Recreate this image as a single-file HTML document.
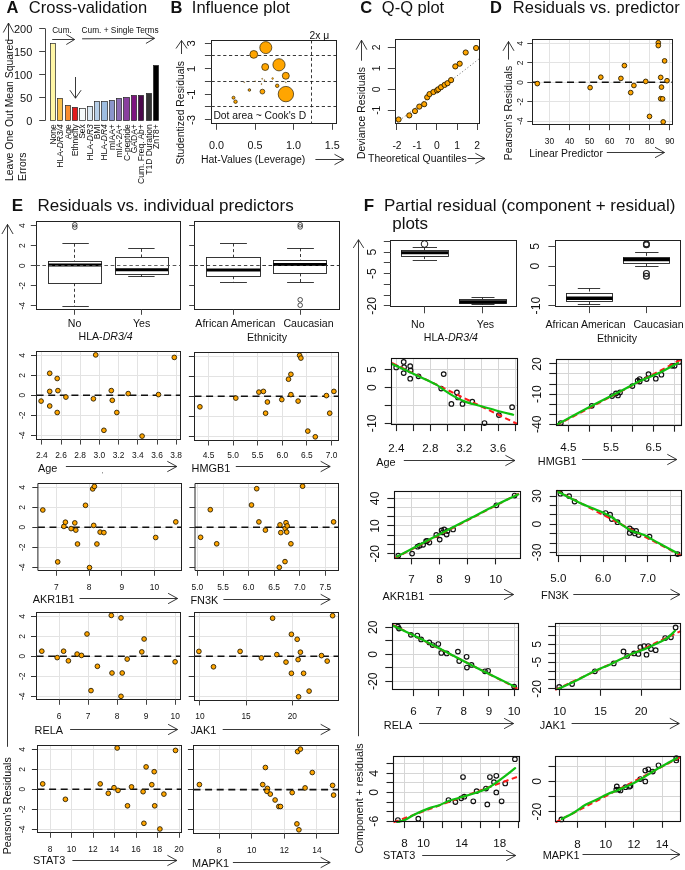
<!DOCTYPE html>
<html><head><meta charset="utf-8"><title>Figure</title>
<style>
html,body{margin:0;padding:0;background:#fff;}
body{width:685px;height:870px;overflow:hidden;}
svg{display:block;will-change:transform;font-family:"Liberation Sans", sans-serif;}
text{fill:#111;}
</style></head><body>
<svg width="685" height="870" viewBox="0 0 685 870">
<rect x="0" y="0" width="685" height="870" fill="#fff"/>
<text x="6.6" y="13.3" font-size="16.5" font-weight="bold" fill="#000">A</text>
<text x="28.8" y="13.3" font-size="16.5">Cross-validation</text>
<text x="170.6" y="13.3" font-size="16.5" font-weight="bold" fill="#000">B</text>
<text x="191.8" y="13.3" font-size="16.5">Influence plot</text>
<text x="360.2" y="13.3" font-size="16.5" font-weight="bold" fill="#000">C</text>
<text x="381.8" y="13.3" font-size="16.5">Q-Q plot</text>
<text x="490.1" y="13.3" font-size="16.5" font-weight="bold" fill="#000">D</text>
<text x="512.8" y="13.3" font-size="16.5">Residuals vs. predictor</text>
<line x1="45.5" y1="28.6" x2="45.5" y2="120.6" stroke="#444" stroke-width="1" stroke-linecap="butt"/>
<line x1="39.2" y1="120.5" x2="45.3" y2="120.5" stroke="#444" stroke-width="1" stroke-linecap="butt"/>
<text x="32.3" y="125.2" font-size="11" text-anchor="end">0</text>
<line x1="39.2" y1="97.5" x2="45.3" y2="97.5" stroke="#444" stroke-width="1" stroke-linecap="butt"/>
<text x="32.3" y="102.2" font-size="11" text-anchor="end">50</text>
<line x1="39.2" y1="74.5" x2="45.3" y2="74.5" stroke="#444" stroke-width="1" stroke-linecap="butt"/>
<text x="32.3" y="79.2" font-size="11" text-anchor="end">100</text>
<line x1="39.2" y1="51.5" x2="45.3" y2="51.5" stroke="#444" stroke-width="1" stroke-linecap="butt"/>
<text x="32.3" y="56.2" font-size="11" text-anchor="end">150</text>
<line x1="39.2" y1="28.5" x2="45.3" y2="28.5" stroke="#444" stroke-width="1" stroke-linecap="butt"/>
<text x="32.3" y="33.2" font-size="11" text-anchor="end">200</text>
<rect x="50.5" y="43.5" width="5" height="77" fill="#FFF6A6" stroke="#222" stroke-width="0.7"/>
<text x="56" y="124.2" font-size="8.5" text-anchor="end" transform="rotate(-90 56 124.2)">None</text>
<rect x="57.5" y="98.5" width="5" height="22" fill="#F9C24F" stroke="#222" stroke-width="0.7"/>
<text x="63.36" y="124.2" font-size="8.5" text-anchor="end" transform="rotate(-90 63.36 124.2)">HLA-<tspan font-style="italic">DR3/4</tspan></text>
<rect x="65.5" y="105.5" width="5" height="15" fill="#F98B2D" stroke="#222" stroke-width="0.7"/>
<text x="70.71" y="124.2" font-size="8.5" text-anchor="end" transform="rotate(-90 70.71 124.2)">Age</text>
<rect x="72.5" y="107.5" width="5" height="13" fill="#E2191C" stroke="#222" stroke-width="0.7"/>
<text x="78.06" y="124.2" font-size="8.5" text-anchor="end" transform="rotate(-90 78.06 124.2)">Ethnicity</text>
<rect x="79.5" y="108.5" width="6" height="12" fill="#F5FBFC" stroke="#222" stroke-width="0.7"/>
<text x="85.42" y="124.2" font-size="8.5" text-anchor="end" transform="rotate(-90 85.42 124.2)">Sex</text>
<rect x="87.5" y="106.5" width="5" height="14" fill="#DCEAF4" stroke="#222" stroke-width="0.7"/>
<text x="92.78" y="124.2" font-size="8.5" text-anchor="end" transform="rotate(-90 92.78 124.2)">HLA-<tspan font-style="italic">DR3</tspan></text>
<rect x="94.5" y="101.5" width="5" height="19" fill="#B5CEE8" stroke="#222" stroke-width="0.7"/>
<text x="100.13" y="124.2" font-size="8.5" text-anchor="end" transform="rotate(-90 100.13 124.2)">BMI</text>
<rect x="101.5" y="101.5" width="6" height="19" fill="#9DBDE1" stroke="#222" stroke-width="0.7"/>
<text x="107.48" y="124.2" font-size="8.5" text-anchor="end" transform="rotate(-90 107.48 124.2)">HLA-<tspan font-style="italic">DR4</tspan></text>
<rect x="109.5" y="100.5" width="5" height="20" fill="#8A95CB" stroke="#222" stroke-width="0.7"/>
<text x="114.84" y="124.2" font-size="8.5" text-anchor="end" transform="rotate(-90 114.84 124.2)">mIAA+</text>
<rect x="116.5" y="98.5" width="5" height="22" fill="#8C6BB3" stroke="#222" stroke-width="0.7"/>
<text x="122.2" y="124.2" font-size="8.5" text-anchor="end" transform="rotate(-90 122.2 124.2)">mIA-2A+</text>
<rect x="123.5" y="97.5" width="6" height="23" fill="#8A3F9F" stroke="#222" stroke-width="0.7"/>
<text x="129.55" y="124.2" font-size="8.5" text-anchor="end" transform="rotate(-90 129.55 124.2)">C-peptide</text>
<rect x="131.5" y="95.5" width="5" height="25" fill="#7E1480" stroke="#222" stroke-width="0.7"/>
<text x="136.91" y="124.2" font-size="8.5" text-anchor="end" transform="rotate(-90 136.91 124.2)">GADA+</text>
<rect x="138.5" y="95.5" width="5" height="25" fill="#4B0A4C" stroke="#222" stroke-width="0.7"/>
<text x="144.26" y="124.2" font-size="8.5" text-anchor="end" transform="rotate(-90 144.26 124.2)">Cum. Freq. Ab+</text>
<rect x="146.5" y="93.5" width="5" height="27" fill="#333333" stroke="#222" stroke-width="0.7"/>
<text x="151.62" y="124.2" font-size="8.5" text-anchor="end" transform="rotate(-90 151.62 124.2)">T1D Duration</text>
<rect x="153.5" y="65.5" width="5" height="55" fill="#000000" stroke="#222" stroke-width="0.7"/>
<text x="158.97" y="124.2" font-size="8.5" text-anchor="end" transform="rotate(-90 158.97 124.2)">ZnT8+</text>
<text x="52.2" y="33.3" font-size="8.2">Cum.</text>
<text x="81.6" y="33.3" font-size="8.3">Cum. + Single Terms</text>
<polyline points="52.2,39.5 74.6,39.5" fill="none" stroke="#222" stroke-width="0.9"/>
<polyline points="66.3,44.5 74.6,39.5 66.3,34.5" fill="none" stroke="#222" stroke-width="0.9" stroke-linejoin="miter"/>
<polyline points="82.1,38.8 154.5,38.4" fill="none" stroke="#222" stroke-width="0.9"/>
<polyline points="145.93,43.45 154.5,38.4 145.87,33.45" fill="none" stroke="#222" stroke-width="0.9" stroke-linejoin="miter"/>
<polyline points="75.5,77 75.5,98.2" fill="none" stroke="#222" stroke-width="0.9"/>
<polyline points="69.9,90.2 75.5,98.2 81.1,90.2" fill="none" stroke="#222" stroke-width="0.9" stroke-linejoin="miter"/>
<text x="13.2" y="181" font-size="10.45" transform="rotate(-90 13.2 181)">Leave One Out Mean Squared</text>
<text x="26.4" y="181" font-size="10.45" transform="rotate(-90 26.4 181)">Errors</text>
<polyline points="8.5,40 8.5,23" fill="none" stroke="#222" stroke-width="0.9"/>
<polyline points="13.7,32.5 8.5,23 3.3,32.5" fill="none" stroke="#222" stroke-width="0.9" stroke-linejoin="miter"/>
<line x1="211.6" y1="55.5" x2="336.6" y2="55.5" stroke="#222" stroke-width="0.9" stroke-linecap="butt" stroke-dasharray="3.2,2.6"/>
<line x1="211.6" y1="81.5" x2="336.6" y2="81.5" stroke="#222" stroke-width="0.9" stroke-linecap="butt" stroke-dasharray="3.2,2.6"/>
<line x1="211.6" y1="106.5" x2="336.6" y2="106.5" stroke="#222" stroke-width="0.9" stroke-linecap="butt" stroke-dasharray="3.2,2.6"/>
<line x1="311.5" y1="40.3" x2="311.5" y2="123.3" stroke="#222" stroke-width="0.9" stroke-linecap="butt" stroke-dasharray="3.2,2.6"/>
<rect x="211.5" y="40.5" width="125" height="83" fill="none" stroke="#222" stroke-width="1"/>
<line x1="204.9" y1="119.5" x2="211.6" y2="119.5" stroke="#444" stroke-width="1" stroke-linecap="butt"/>
<line x1="204.9" y1="106.5" x2="211.6" y2="106.5" stroke="#444" stroke-width="1" stroke-linecap="butt"/>
<line x1="204.9" y1="94.5" x2="211.6" y2="94.5" stroke="#444" stroke-width="1" stroke-linecap="butt"/>
<line x1="204.9" y1="81.5" x2="211.6" y2="81.5" stroke="#444" stroke-width="1" stroke-linecap="butt"/>
<line x1="204.9" y1="68.5" x2="211.6" y2="68.5" stroke="#444" stroke-width="1" stroke-linecap="butt"/>
<line x1="204.9" y1="55.5" x2="211.6" y2="55.5" stroke="#444" stroke-width="1" stroke-linecap="butt"/>
<line x1="204.9" y1="43.5" x2="211.6" y2="43.5" stroke="#444" stroke-width="1" stroke-linecap="butt"/>
<text x="195" y="43.35" font-size="11.4" text-anchor="middle" transform="rotate(-90 195 43.35)">3</text>
<text x="195" y="68.85" font-size="11.4" text-anchor="middle" transform="rotate(-90 195 68.85)">1</text>
<text x="195" y="94.35" font-size="11.4" text-anchor="middle" transform="rotate(-90 195 94.35)">-1</text>
<text x="195" y="119.85" font-size="11.4" text-anchor="middle" transform="rotate(-90 195 119.85)">-3</text>
<line x1="216.5" y1="124.1" x2="216.5" y2="129.8" stroke="#444" stroke-width="1" stroke-linecap="butt"/>
<text x="216.4" y="149" font-size="10.8" text-anchor="middle">0.0</text>
<line x1="255.5" y1="124.1" x2="255.5" y2="129.8" stroke="#444" stroke-width="1" stroke-linecap="butt"/>
<text x="255" y="149" font-size="10.8" text-anchor="middle">0.5</text>
<line x1="293.5" y1="124.1" x2="293.5" y2="129.8" stroke="#444" stroke-width="1" stroke-linecap="butt"/>
<text x="293.6" y="149" font-size="10.8" text-anchor="middle">1.0</text>
<line x1="332.5" y1="124.1" x2="332.5" y2="129.8" stroke="#444" stroke-width="1" stroke-linecap="butt"/>
<text x="332.2" y="149" font-size="10.8" text-anchor="middle">1.5</text>
<text x="201" y="162.6" font-size="10.45">Hat-Values (Leverage)</text>
<polyline points="315.4,159.5 344,159.5" fill="none" stroke="#222" stroke-width="0.9"/>
<polyline points="334.5,164.7 344,159.5 334.5,154.3" fill="none" stroke="#222" stroke-width="0.9" stroke-linejoin="miter"/>
<text x="184.2" y="164.4" font-size="10.4" transform="rotate(-90 184.2 164.4)">Studentized Residuals</text>
<polyline points="181.5,54 181.5,40.5" fill="none" stroke="#222" stroke-width="0.9"/>
<polyline points="187,48.5 181.5,40.5 176,48.5" fill="none" stroke="#222" stroke-width="0.9" stroke-linejoin="miter"/>
<text x="213.4" y="118.6" font-size="10.3">Dot area ~ Cook's D</text>
<text x="309.6" y="38.6" font-size="10.3">2x μ</text>
<circle cx="265.8" cy="47.6" r="6" fill="#FFA500" stroke="#2a1e00" stroke-width="0.7"/>
<circle cx="253.8" cy="54.4" r="3.9" fill="#FFA500" stroke="#2a1e00" stroke-width="0.7"/>
<circle cx="279" cy="64.8" r="6.1" fill="#FFA500" stroke="#2a1e00" stroke-width="0.7"/>
<circle cx="265.2" cy="67" r="3.5" fill="#FFA500" stroke="#2a1e00" stroke-width="0.7"/>
<circle cx="285.8" cy="75.8" r="3.5" fill="#FFA500" stroke="#2a1e00" stroke-width="0.7"/>
<circle cx="285.9" cy="94.1" r="7.7" fill="#FFA500" stroke="#2a1e00" stroke-width="0.7"/>
<circle cx="262.4" cy="91.6" r="2.4" fill="#FFA500" stroke="#2a1e00" stroke-width="0.7"/>
<circle cx="277.2" cy="85.8" r="1.75" fill="#FFA500" stroke="#2a1e00" stroke-width="0.7"/>
<circle cx="249.4" cy="90" r="1.3" fill="#FFA500" stroke="#2a1e00" stroke-width="0.7"/>
<circle cx="233.5" cy="97.7" r="1.5" fill="#FFA500" stroke="#2a1e00" stroke-width="0.7"/>
<circle cx="235.5" cy="101.7" r="1.75" fill="#FFA500" stroke="#2a1e00" stroke-width="0.7"/>
<circle cx="272.6" cy="78.5" r="0.9" fill="#FFA500" stroke="#2a1e00" stroke-width="0.35"/>
<circle cx="262.2" cy="78.8" r="0.55" fill="#FFA500" stroke="#2a1e00" stroke-width="0.35"/>
<circle cx="264.4" cy="80.2" r="0.5" fill="#FFA500" stroke="#2a1e00" stroke-width="0.35"/>
<circle cx="261.5" cy="84" r="0.55" fill="#FFA500" stroke="#2a1e00" stroke-width="0.35"/>
<circle cx="244.2" cy="82.3" r="0.45" fill="#FFA500" stroke="#2a1e00" stroke-width="0.35"/>
<circle cx="255.1" cy="81.2" r="0.45" fill="#FFA500" stroke="#2a1e00" stroke-width="0.35"/>
<circle cx="285.8" cy="82.3" r="0.45" fill="#FFA500" stroke="#2a1e00" stroke-width="0.35"/>
<line x1="397" y1="122.4" x2="479.4" y2="58.6" stroke="#666" stroke-width="0.9" stroke-linecap="butt" stroke-dasharray="1.1,2.2"/>
<rect x="395.5" y="39.5" width="84" height="84" fill="none" stroke="#222" stroke-width="1"/>
<line x1="387.8" y1="47.5" x2="395.4" y2="47.5" stroke="#444" stroke-width="1" stroke-linecap="butt"/>
<text x="379.8" y="47.36" font-size="10.3" text-anchor="middle" transform="rotate(-90 379.8 47.36)">2</text>
<line x1="387.8" y1="68.5" x2="395.4" y2="68.5" stroke="#444" stroke-width="1" stroke-linecap="butt"/>
<text x="379.8" y="68.33" font-size="10.3" text-anchor="middle" transform="rotate(-90 379.8 68.33)">1</text>
<line x1="387.8" y1="89.5" x2="395.4" y2="89.5" stroke="#444" stroke-width="1" stroke-linecap="butt"/>
<text x="379.8" y="89.3" font-size="10.3" text-anchor="middle" transform="rotate(-90 379.8 89.3)">0</text>
<line x1="387.8" y1="110.5" x2="395.4" y2="110.5" stroke="#444" stroke-width="1" stroke-linecap="butt"/>
<text x="379.8" y="110.27" font-size="10.3" text-anchor="middle" transform="rotate(-90 379.8 110.27)">-1</text>
<line x1="396.5" y1="123.8" x2="396.5" y2="130" stroke="#444" stroke-width="1" stroke-linecap="butt"/>
<text x="397" y="149" font-size="10.3" text-anchor="middle">-2</text>
<line x1="416.5" y1="123.8" x2="416.5" y2="130" stroke="#444" stroke-width="1" stroke-linecap="butt"/>
<text x="417.1" y="149" font-size="10.3" text-anchor="middle">-1</text>
<line x1="436.5" y1="123.8" x2="436.5" y2="130" stroke="#444" stroke-width="1" stroke-linecap="butt"/>
<text x="436.9" y="149" font-size="10.3" text-anchor="middle">0</text>
<line x1="457.5" y1="123.8" x2="457.5" y2="130" stroke="#444" stroke-width="1" stroke-linecap="butt"/>
<text x="457" y="149" font-size="10.3" text-anchor="middle">1</text>
<line x1="477.5" y1="123.8" x2="477.5" y2="130" stroke="#444" stroke-width="1" stroke-linecap="butt"/>
<text x="477.1" y="149" font-size="10.3" text-anchor="middle">2</text>
<text x="368" y="162.3" font-size="10.45">Theoretical Quantiles</text>
<polyline points="467.5,158.5 484.9,158.5" fill="none" stroke="#222" stroke-width="0.9"/>
<polyline points="475.4,163.7 484.9,158.5 475.4,153.3" fill="none" stroke="#222" stroke-width="0.9" stroke-linejoin="miter"/>
<text x="365" y="159" font-size="10.4" transform="rotate(-90 365 159)">Deviance Residuals</text>
<polyline points="361.5,60.7 361.5,40.2" fill="none" stroke="#222" stroke-width="0.9"/>
<polyline points="366.9,49.7 361.5,40.2 356.1,49.7" fill="none" stroke="#222" stroke-width="0.9" stroke-linejoin="miter"/>
<circle cx="398.6" cy="119.5" r="2.6" fill="#FFA500" stroke="#2a1e00" stroke-width="0.9"/>
<circle cx="409.3" cy="115.4" r="2.6" fill="#FFA500" stroke="#2a1e00" stroke-width="0.9"/>
<circle cx="415" cy="111.1" r="2.6" fill="#FFA500" stroke="#2a1e00" stroke-width="0.9"/>
<circle cx="419.3" cy="106.6" r="2.6" fill="#FFA500" stroke="#2a1e00" stroke-width="0.9"/>
<circle cx="424.2" cy="104.2" r="2.6" fill="#FFA500" stroke="#2a1e00" stroke-width="0.9"/>
<circle cx="427.2" cy="97.3" r="2.6" fill="#FFA500" stroke="#2a1e00" stroke-width="0.9"/>
<circle cx="429.5" cy="94.1" r="2.6" fill="#FFA500" stroke="#2a1e00" stroke-width="0.9"/>
<circle cx="433.4" cy="92" r="2.6" fill="#FFA500" stroke="#2a1e00" stroke-width="0.9"/>
<circle cx="437" cy="90.4" r="2.6" fill="#FFA500" stroke="#2a1e00" stroke-width="0.9"/>
<circle cx="438.3" cy="89.3" r="2.6" fill="#FFA500" stroke="#2a1e00" stroke-width="0.9"/>
<circle cx="441" cy="87.2" r="2.6" fill="#FFA500" stroke="#2a1e00" stroke-width="0.9"/>
<circle cx="444.6" cy="84.9" r="2.6" fill="#FFA500" stroke="#2a1e00" stroke-width="0.9"/>
<circle cx="447.5" cy="83.2" r="2.6" fill="#FFA500" stroke="#2a1e00" stroke-width="0.9"/>
<circle cx="451.1" cy="80.1" r="2.6" fill="#FFA500" stroke="#2a1e00" stroke-width="0.9"/>
<circle cx="455.3" cy="66.4" r="2.6" fill="#FFA500" stroke="#2a1e00" stroke-width="0.9"/>
<circle cx="459.7" cy="63.7" r="2.6" fill="#FFA500" stroke="#2a1e00" stroke-width="0.9"/>
<circle cx="465.7" cy="52.5" r="2.6" fill="#FFA500" stroke="#2a1e00" stroke-width="0.9"/>
<circle cx="476.1" cy="48" r="2.6" fill="#FFA500" stroke="#2a1e00" stroke-width="0.9"/>
<line x1="532.2" y1="43.5" x2="672.6" y2="43.5" stroke="#e3e3e3" stroke-width="1" stroke-linecap="butt"/>
<line x1="532.2" y1="62.5" x2="672.6" y2="62.5" stroke="#e3e3e3" stroke-width="1" stroke-linecap="butt"/>
<line x1="532.2" y1="82.5" x2="672.6" y2="82.5" stroke="#e3e3e3" stroke-width="1" stroke-linecap="butt"/>
<line x1="532.2" y1="101.5" x2="672.6" y2="101.5" stroke="#e3e3e3" stroke-width="1" stroke-linecap="butt"/>
<line x1="532.2" y1="121.5" x2="672.6" y2="121.5" stroke="#e3e3e3" stroke-width="1" stroke-linecap="butt"/>
<line x1="549.5" y1="39.6" x2="549.5" y2="124.9" stroke="#e3e3e3" stroke-width="1" stroke-linecap="butt"/>
<line x1="569.5" y1="39.6" x2="569.5" y2="124.9" stroke="#e3e3e3" stroke-width="1" stroke-linecap="butt"/>
<line x1="589.5" y1="39.6" x2="589.5" y2="124.9" stroke="#e3e3e3" stroke-width="1" stroke-linecap="butt"/>
<line x1="609.5" y1="39.6" x2="609.5" y2="124.9" stroke="#e3e3e3" stroke-width="1" stroke-linecap="butt"/>
<line x1="629.5" y1="39.6" x2="629.5" y2="124.9" stroke="#e3e3e3" stroke-width="1" stroke-linecap="butt"/>
<line x1="649.5" y1="39.6" x2="649.5" y2="124.9" stroke="#e3e3e3" stroke-width="1" stroke-linecap="butt"/>
<line x1="669.5" y1="39.6" x2="669.5" y2="124.9" stroke="#e3e3e3" stroke-width="1" stroke-linecap="butt"/>
<line x1="532.2" y1="82.3" x2="672.6" y2="82.3" stroke="#111" stroke-width="1.6" stroke-linecap="butt" stroke-dasharray="7,4.6"/>
<rect x="532.5" y="39.5" width="140" height="85" fill="none" stroke="#222" stroke-width="1"/>
<line x1="527.3" y1="43.5" x2="532.2" y2="43.5" stroke="#444" stroke-width="1" stroke-linecap="butt"/>
<text x="522.8" y="43.5" font-size="8.4" text-anchor="middle" transform="rotate(-90 522.8 43.5)">4</text>
<line x1="527.3" y1="62.5" x2="532.2" y2="62.5" stroke="#444" stroke-width="1" stroke-linecap="butt"/>
<text x="522.8" y="62.9" font-size="8.4" text-anchor="middle" transform="rotate(-90 522.8 62.9)">2</text>
<line x1="527.3" y1="82.5" x2="532.2" y2="82.5" stroke="#444" stroke-width="1" stroke-linecap="butt"/>
<text x="522.8" y="82.3" font-size="8.4" text-anchor="middle" transform="rotate(-90 522.8 82.3)">0</text>
<line x1="527.3" y1="101.5" x2="532.2" y2="101.5" stroke="#444" stroke-width="1" stroke-linecap="butt"/>
<text x="522.8" y="101.7" font-size="8.4" text-anchor="middle" transform="rotate(-90 522.8 101.7)">-2</text>
<line x1="527.3" y1="121.5" x2="532.2" y2="121.5" stroke="#444" stroke-width="1" stroke-linecap="butt"/>
<text x="522.8" y="121.1" font-size="8.4" text-anchor="middle" transform="rotate(-90 522.8 121.1)">-4</text>
<line x1="549.5" y1="124.9" x2="549.5" y2="130.2" stroke="#444" stroke-width="1" stroke-linecap="butt"/>
<text x="549.5" y="143.6" font-size="8.4" text-anchor="middle">30</text>
<line x1="569.5" y1="124.9" x2="569.5" y2="130.2" stroke="#444" stroke-width="1" stroke-linecap="butt"/>
<text x="569.55" y="143.6" font-size="8.4" text-anchor="middle">40</text>
<line x1="589.5" y1="124.9" x2="589.5" y2="130.2" stroke="#444" stroke-width="1" stroke-linecap="butt"/>
<text x="589.6" y="143.6" font-size="8.4" text-anchor="middle">50</text>
<line x1="609.5" y1="124.9" x2="609.5" y2="130.2" stroke="#444" stroke-width="1" stroke-linecap="butt"/>
<text x="609.65" y="143.6" font-size="8.4" text-anchor="middle">60</text>
<line x1="629.5" y1="124.9" x2="629.5" y2="130.2" stroke="#444" stroke-width="1" stroke-linecap="butt"/>
<text x="629.7" y="143.6" font-size="8.4" text-anchor="middle">70</text>
<line x1="649.5" y1="124.9" x2="649.5" y2="130.2" stroke="#444" stroke-width="1" stroke-linecap="butt"/>
<text x="649.75" y="143.6" font-size="8.4" text-anchor="middle">80</text>
<line x1="669.5" y1="124.9" x2="669.5" y2="130.2" stroke="#444" stroke-width="1" stroke-linecap="butt"/>
<text x="669.8" y="143.6" font-size="8.4" text-anchor="middle">90</text>
<text x="529.2" y="156.6" font-size="10.45">Linear Predictor</text>
<polyline points="606.8,152.5 664.5,152.5" fill="none" stroke="#222" stroke-width="0.9"/>
<polyline points="655,157.7 664.5,152.5 655,147.3" fill="none" stroke="#222" stroke-width="0.9" stroke-linejoin="miter"/>
<text x="511.8" y="160.3" font-size="10.4" transform="rotate(-90 511.8 160.3)">Pearson's Residuals</text>
<polyline points="508.5,59.6 508.5,41.5" fill="none" stroke="#222" stroke-width="0.9"/>
<polyline points="514,50.8 508.5,41.5 503,50.8" fill="none" stroke="#222" stroke-width="0.9" stroke-linejoin="miter"/>
<circle cx="537.3" cy="83.6" r="2.35" fill="#FFA500" stroke="#2a1e00" stroke-width="0.9"/>
<circle cx="590.1" cy="87.6" r="2.35" fill="#FFA500" stroke="#2a1e00" stroke-width="0.9"/>
<circle cx="600.8" cy="77.2" r="2.35" fill="#FFA500" stroke="#2a1e00" stroke-width="0.9"/>
<circle cx="620.9" cy="78.4" r="2.35" fill="#FFA500" stroke="#2a1e00" stroke-width="0.9"/>
<circle cx="624.4" cy="65.6" r="2.35" fill="#FFA500" stroke="#2a1e00" stroke-width="0.9"/>
<circle cx="630.7" cy="92.6" r="2.35" fill="#FFA500" stroke="#2a1e00" stroke-width="0.9"/>
<circle cx="633.9" cy="85.5" r="2.35" fill="#FFA500" stroke="#2a1e00" stroke-width="0.9"/>
<circle cx="645.7" cy="81.4" r="2.35" fill="#FFA500" stroke="#2a1e00" stroke-width="0.9"/>
<circle cx="649.5" cy="116.4" r="2.35" fill="#FFA500" stroke="#2a1e00" stroke-width="0.9"/>
<circle cx="658.3" cy="42.7" r="2.35" fill="#FFA500" stroke="#2a1e00" stroke-width="0.9"/>
<circle cx="658.3" cy="45.6" r="2.35" fill="#FFA500" stroke="#2a1e00" stroke-width="0.9"/>
<circle cx="664.6" cy="60.9" r="2.35" fill="#FFA500" stroke="#2a1e00" stroke-width="0.9"/>
<circle cx="660.7" cy="77.4" r="2.35" fill="#FFA500" stroke="#2a1e00" stroke-width="0.9"/>
<circle cx="667" cy="80.7" r="2.35" fill="#FFA500" stroke="#2a1e00" stroke-width="0.9"/>
<circle cx="661.5" cy="87.1" r="2.35" fill="#FFA500" stroke="#2a1e00" stroke-width="0.9"/>
<circle cx="660.7" cy="98.7" r="2.35" fill="#FFA500" stroke="#2a1e00" stroke-width="0.9"/>
<circle cx="662.6" cy="98.9" r="2.35" fill="#FFA500" stroke="#2a1e00" stroke-width="0.9"/>
<circle cx="663.2" cy="121.9" r="2.35" fill="#FFA500" stroke="#2a1e00" stroke-width="0.9"/>
<text x="11.8" y="210.8" font-size="17" font-weight="bold" fill="#000">E</text>
<text x="37.6" y="210.8" font-size="17">Residuals vs. individual predictors</text>
<text x="363.8" y="210.9" font-size="17" font-weight="bold" fill="#000">F</text>
<text x="384" y="210.9" font-size="17">Partial residual (component + residual)</text>
<text x="392.2" y="229" font-size="17">plots</text>
<polyline points="7.5,746.8 7.5,224.4" fill="none" stroke="#222" stroke-width="0.9"/>
<polyline points="13.1,234 7.5,224.4 1.9,234" fill="none" stroke="#222" stroke-width="0.9" stroke-linejoin="miter"/>
<text x="11" y="854.3" font-size="10.7" transform="rotate(-90 11 854.3)">Pearson's Residuals</text>
<line x1="36.4" y1="265.5" x2="180.3" y2="265.5" stroke="#555" stroke-width="0.9" stroke-linecap="butt" stroke-dasharray="3.4,2.8"/>
<rect x="36.5" y="221.5" width="144" height="88" fill="none" stroke="#222" stroke-width="1"/>
<line x1="30.8" y1="225.5" x2="36.4" y2="225.5" stroke="#444" stroke-width="1" stroke-linecap="butt"/>
<text x="0" y="0" font-size="9.5" text-anchor="middle" transform="translate(25.3 225.62) rotate(-90) scale(0.88 1)">4</text>
<line x1="30.8" y1="245.5" x2="36.4" y2="245.5" stroke="#444" stroke-width="1" stroke-linecap="butt"/>
<text x="0" y="0" font-size="9.5" text-anchor="middle" transform="translate(25.3 245.66) rotate(-90) scale(0.88 1)">2</text>
<line x1="30.8" y1="265.5" x2="36.4" y2="265.5" stroke="#444" stroke-width="1" stroke-linecap="butt"/>
<text x="0" y="0" font-size="9.5" text-anchor="middle" transform="translate(25.3 265.7) rotate(-90) scale(0.88 1)">0</text>
<line x1="30.8" y1="285.5" x2="36.4" y2="285.5" stroke="#444" stroke-width="1" stroke-linecap="butt"/>
<text x="0" y="0" font-size="9.5" text-anchor="middle" transform="translate(25.3 285.74) rotate(-90) scale(0.88 1)">-2</text>
<line x1="30.8" y1="305.5" x2="36.4" y2="305.5" stroke="#444" stroke-width="1" stroke-linecap="butt"/>
<text x="0" y="0" font-size="9.5" text-anchor="middle" transform="translate(25.3 305.78) rotate(-90) scale(0.88 1)">-4</text>
<line x1="74.5" y1="243.7" x2="74.5" y2="261" stroke="#222" stroke-width="0.9" stroke-linecap="butt" stroke-dasharray="3,2.6"/>
<line x1="74.5" y1="283.2" x2="74.5" y2="306.6" stroke="#222" stroke-width="0.9" stroke-linecap="butt" stroke-dasharray="3,2.6"/>
<line x1="62.4" y1="243.5" x2="88.8" y2="243.5" stroke="#222" stroke-width="0.9" stroke-linecap="butt"/>
<line x1="62.4" y1="306.5" x2="88.8" y2="306.5" stroke="#222" stroke-width="0.9" stroke-linecap="butt"/>
<rect x="48.5" y="261.5" width="53" height="22" fill="#fff" stroke="#222" stroke-width="0.9"/>
<line x1="48.4" y1="265" x2="101.6" y2="265" stroke="#000" stroke-width="3" stroke-linecap="butt"/>
<circle cx="74.8" cy="224.8" r="2.3" fill="none" stroke="#222" stroke-width="0.8"/>
<circle cx="74.8" cy="227.2" r="2.3" fill="none" stroke="#222" stroke-width="0.8"/>
<line x1="141.5" y1="248.9" x2="141.5" y2="257.5" stroke="#222" stroke-width="0.9" stroke-linecap="butt" stroke-dasharray="3,2.6"/>
<line x1="141.5" y1="274.3" x2="141.5" y2="276.7" stroke="#222" stroke-width="0.9" stroke-linecap="butt" stroke-dasharray="3,2.6"/>
<line x1="128.2" y1="248.5" x2="154.6" y2="248.5" stroke="#222" stroke-width="0.9" stroke-linecap="butt"/>
<line x1="128.2" y1="276.5" x2="154.6" y2="276.5" stroke="#222" stroke-width="0.9" stroke-linecap="butt"/>
<rect x="115.5" y="257.5" width="53" height="17" fill="#fff" stroke="#222" stroke-width="0.9"/>
<line x1="115.6" y1="269.7" x2="168" y2="269.7" stroke="#000" stroke-width="3" stroke-linecap="butt"/>
<line x1="36.4" y1="265.5" x2="180.3" y2="265.5" stroke="#555" stroke-width="0.9" stroke-linecap="butt" stroke-dasharray="3.4,2.8"/>
<line x1="74.5" y1="309.5" x2="74.5" y2="314.8" stroke="#444" stroke-width="1" stroke-linecap="butt"/>
<line x1="141.5" y1="309.5" x2="141.5" y2="314.8" stroke="#444" stroke-width="1" stroke-linecap="butt"/>
<text x="74.6" y="326.5" font-size="10.6" text-anchor="middle">No</text>
<text x="141.6" y="326.5" font-size="10.6" text-anchor="middle">Yes</text>
<text x="105.6" y="339.6" font-size="10.6" text-anchor="middle">HLA-<tspan font-style="italic">DR3/4</tspan></text>
<line x1="194.3" y1="265.5" x2="339.2" y2="265.5" stroke="#333" stroke-width="0.9" stroke-linecap="butt" stroke-dasharray="3.4,2.8"/>
<rect x="194.5" y="221.5" width="145" height="88" fill="none" stroke="#222" stroke-width="1"/>
<line x1="189.2" y1="225.5" x2="194.3" y2="225.5" stroke="#444" stroke-width="1" stroke-linecap="butt"/>
<line x1="189.2" y1="245.5" x2="194.3" y2="245.5" stroke="#444" stroke-width="1" stroke-linecap="butt"/>
<line x1="189.2" y1="265.5" x2="194.3" y2="265.5" stroke="#444" stroke-width="1" stroke-linecap="butt"/>
<line x1="189.2" y1="285.5" x2="194.3" y2="285.5" stroke="#444" stroke-width="1" stroke-linecap="butt"/>
<line x1="189.2" y1="305.5" x2="194.3" y2="305.5" stroke="#444" stroke-width="1" stroke-linecap="butt"/>
<line x1="233.5" y1="243.5" x2="233.5" y2="257.5" stroke="#222" stroke-width="0.9" stroke-linecap="butt" stroke-dasharray="3,2.6"/>
<line x1="233.5" y1="276.2" x2="233.5" y2="282.3" stroke="#222" stroke-width="0.9" stroke-linecap="butt" stroke-dasharray="3,2.6"/>
<line x1="220" y1="243.5" x2="246.9" y2="243.5" stroke="#222" stroke-width="0.9" stroke-linecap="butt"/>
<line x1="220" y1="282.5" x2="246.9" y2="282.5" stroke="#222" stroke-width="0.9" stroke-linecap="butt"/>
<rect x="206.5" y="257.5" width="54" height="19" fill="#fff" stroke="#222" stroke-width="0.9"/>
<line x1="206.7" y1="270.1" x2="260.4" y2="270.1" stroke="#000" stroke-width="3" stroke-linecap="butt"/>
<line x1="300.5" y1="248.4" x2="300.5" y2="260.3" stroke="#222" stroke-width="0.9" stroke-linecap="butt" stroke-dasharray="3,2.6"/>
<line x1="300.5" y1="273.4" x2="300.5" y2="282.3" stroke="#222" stroke-width="0.9" stroke-linecap="butt" stroke-dasharray="3,2.6"/>
<line x1="287.1" y1="248.5" x2="313.9" y2="248.5" stroke="#222" stroke-width="0.9" stroke-linecap="butt"/>
<line x1="287.1" y1="282.5" x2="313.9" y2="282.5" stroke="#222" stroke-width="0.9" stroke-linecap="butt"/>
<rect x="273.5" y="260.5" width="53" height="13" fill="#fff" stroke="#222" stroke-width="0.9"/>
<line x1="273.3" y1="264.5" x2="326.8" y2="264.5" stroke="#000" stroke-width="3" stroke-linecap="butt"/>
<circle cx="300.2" cy="224.8" r="2.3" fill="none" stroke="#222" stroke-width="0.8"/>
<circle cx="300.2" cy="226.9" r="2.3" fill="none" stroke="#222" stroke-width="0.8"/>
<circle cx="300.2" cy="299.8" r="2.3" fill="none" stroke="#222" stroke-width="0.8"/>
<circle cx="300.2" cy="305.2" r="2.3" fill="none" stroke="#222" stroke-width="0.8"/>
<line x1="194.3" y1="265.5" x2="339.2" y2="265.5" stroke="#333" stroke-width="0.9" stroke-linecap="butt" stroke-dasharray="3.4,2.8"/>
<line x1="233.5" y1="309.5" x2="233.5" y2="314.8" stroke="#444" stroke-width="1" stroke-linecap="butt"/>
<line x1="300.5" y1="309.5" x2="300.5" y2="314.8" stroke="#444" stroke-width="1" stroke-linecap="butt"/>
<text x="235.4" y="326.5" font-size="10.6" text-anchor="middle">African American</text>
<text x="308.5" y="326.5" font-size="10.6" text-anchor="middle">Caucasian</text>
<text x="267" y="341.2" font-size="10.6" text-anchor="middle">Ethnicity</text>
<line x1="36.6" y1="355.5" x2="180.2" y2="355.5" stroke="#e3e3e3" stroke-width="1" stroke-linecap="butt"/>
<line x1="36.6" y1="375.5" x2="180.2" y2="375.5" stroke="#e3e3e3" stroke-width="1" stroke-linecap="butt"/>
<line x1="36.6" y1="395.5" x2="180.2" y2="395.5" stroke="#e3e3e3" stroke-width="1" stroke-linecap="butt"/>
<line x1="36.6" y1="415.5" x2="180.2" y2="415.5" stroke="#e3e3e3" stroke-width="1" stroke-linecap="butt"/>
<line x1="36.6" y1="435.5" x2="180.2" y2="435.5" stroke="#e3e3e3" stroke-width="1" stroke-linecap="butt"/>
<line x1="41.5" y1="351.5" x2="41.5" y2="439.2" stroke="#e3e3e3" stroke-width="1" stroke-linecap="butt"/>
<line x1="61.5" y1="351.5" x2="61.5" y2="439.2" stroke="#e3e3e3" stroke-width="1" stroke-linecap="butt"/>
<line x1="80.5" y1="351.5" x2="80.5" y2="439.2" stroke="#e3e3e3" stroke-width="1" stroke-linecap="butt"/>
<line x1="99.5" y1="351.5" x2="99.5" y2="439.2" stroke="#e3e3e3" stroke-width="1" stroke-linecap="butt"/>
<line x1="118.5" y1="351.5" x2="118.5" y2="439.2" stroke="#e3e3e3" stroke-width="1" stroke-linecap="butt"/>
<line x1="137.5" y1="351.5" x2="137.5" y2="439.2" stroke="#e3e3e3" stroke-width="1" stroke-linecap="butt"/>
<line x1="157.5" y1="351.5" x2="157.5" y2="439.2" stroke="#e3e3e3" stroke-width="1" stroke-linecap="butt"/>
<line x1="176.5" y1="351.5" x2="176.5" y2="439.2" stroke="#e3e3e3" stroke-width="1" stroke-linecap="butt"/>
<line x1="36.6" y1="395.3" x2="180.2" y2="395.3" stroke="#111" stroke-width="1.6" stroke-linecap="butt" stroke-dasharray="7,4.6"/>
<circle cx="41.1" cy="401.1" r="2.35" fill="#FFA500" stroke="#2a1e00" stroke-width="0.9"/>
<circle cx="49.7" cy="373.3" r="2.35" fill="#FFA500" stroke="#2a1e00" stroke-width="0.9"/>
<circle cx="49.7" cy="391.4" r="2.35" fill="#FFA500" stroke="#2a1e00" stroke-width="0.9"/>
<circle cx="49.7" cy="406" r="2.35" fill="#FFA500" stroke="#2a1e00" stroke-width="0.9"/>
<circle cx="57.2" cy="378.5" r="2.35" fill="#FFA500" stroke="#2a1e00" stroke-width="0.9"/>
<circle cx="57.9" cy="390.6" r="2.35" fill="#FFA500" stroke="#2a1e00" stroke-width="0.9"/>
<circle cx="57.2" cy="412.5" r="2.35" fill="#FFA500" stroke="#2a1e00" stroke-width="0.9"/>
<circle cx="65.9" cy="397.1" r="2.35" fill="#FFA500" stroke="#2a1e00" stroke-width="0.9"/>
<circle cx="93.4" cy="398.8" r="2.35" fill="#FFA500" stroke="#2a1e00" stroke-width="0.9"/>
<circle cx="95.7" cy="354.9" r="2.35" fill="#FFA500" stroke="#2a1e00" stroke-width="0.9"/>
<circle cx="103.9" cy="430.3" r="2.35" fill="#FFA500" stroke="#2a1e00" stroke-width="0.9"/>
<circle cx="111.3" cy="390.6" r="2.35" fill="#FFA500" stroke="#2a1e00" stroke-width="0.9"/>
<circle cx="112.3" cy="400.3" r="2.35" fill="#FFA500" stroke="#2a1e00" stroke-width="0.9"/>
<circle cx="116.8" cy="412.5" r="2.35" fill="#FFA500" stroke="#2a1e00" stroke-width="0.9"/>
<circle cx="128.2" cy="393.6" r="2.35" fill="#FFA500" stroke="#2a1e00" stroke-width="0.9"/>
<circle cx="142.1" cy="436.1" r="2.35" fill="#FFA500" stroke="#2a1e00" stroke-width="0.9"/>
<circle cx="158.5" cy="394.6" r="2.35" fill="#FFA500" stroke="#2a1e00" stroke-width="0.9"/>
<circle cx="174.3" cy="357.4" r="2.35" fill="#FFA500" stroke="#2a1e00" stroke-width="0.9"/>
<rect x="36.5" y="351.5" width="144" height="88" fill="none" stroke="#222" stroke-width="1"/>
<line x1="31" y1="355.5" x2="36.6" y2="355.5" stroke="#333" stroke-width="1" stroke-linecap="butt"/>
<text x="0" y="0" font-size="9.5" text-anchor="middle" transform="translate(25.3 355.4) rotate(-90) scale(0.88 1)">4</text>
<line x1="31" y1="375.5" x2="36.6" y2="375.5" stroke="#333" stroke-width="1" stroke-linecap="butt"/>
<text x="0" y="0" font-size="9.5" text-anchor="middle" transform="translate(25.3 375.35) rotate(-90) scale(0.88 1)">2</text>
<line x1="31" y1="395.5" x2="36.6" y2="395.5" stroke="#333" stroke-width="1" stroke-linecap="butt"/>
<text x="0" y="0" font-size="9.5" text-anchor="middle" transform="translate(25.3 395.3) rotate(-90) scale(0.88 1)">0</text>
<line x1="31" y1="415.5" x2="36.6" y2="415.5" stroke="#333" stroke-width="1" stroke-linecap="butt"/>
<text x="0" y="0" font-size="9.5" text-anchor="middle" transform="translate(25.3 415.25) rotate(-90) scale(0.88 1)">-2</text>
<line x1="31" y1="435.5" x2="36.6" y2="435.5" stroke="#333" stroke-width="1" stroke-linecap="butt"/>
<text x="0" y="0" font-size="9.5" text-anchor="middle" transform="translate(25.3 435.2) rotate(-90) scale(0.88 1)">-4</text>
<line x1="41.5" y1="439.2" x2="41.5" y2="444.6" stroke="#444" stroke-width="1" stroke-linecap="butt"/>
<text x="41.8" y="458.4" font-size="8.4" text-anchor="middle">2.4</text>
<line x1="61.5" y1="439.2" x2="61.5" y2="444.6" stroke="#444" stroke-width="1" stroke-linecap="butt"/>
<text x="61" y="458.4" font-size="8.4" text-anchor="middle">2.6</text>
<line x1="80.5" y1="439.2" x2="80.5" y2="444.6" stroke="#444" stroke-width="1" stroke-linecap="butt"/>
<text x="80.2" y="458.4" font-size="8.4" text-anchor="middle">2.8</text>
<line x1="99.5" y1="439.2" x2="99.5" y2="444.6" stroke="#444" stroke-width="1" stroke-linecap="butt"/>
<text x="99.4" y="458.4" font-size="8.4" text-anchor="middle">3.0</text>
<line x1="118.5" y1="439.2" x2="118.5" y2="444.6" stroke="#444" stroke-width="1" stroke-linecap="butt"/>
<text x="118.6" y="458.4" font-size="8.4" text-anchor="middle">3.2</text>
<line x1="137.5" y1="439.2" x2="137.5" y2="444.6" stroke="#444" stroke-width="1" stroke-linecap="butt"/>
<text x="137.8" y="458.4" font-size="8.4" text-anchor="middle">3.4</text>
<line x1="157.5" y1="439.2" x2="157.5" y2="444.6" stroke="#444" stroke-width="1" stroke-linecap="butt"/>
<text x="157" y="458.4" font-size="8.4" text-anchor="middle">3.6</text>
<line x1="176.5" y1="439.2" x2="176.5" y2="444.6" stroke="#444" stroke-width="1" stroke-linecap="butt"/>
<text x="176.2" y="458.4" font-size="8.4" text-anchor="middle">3.8</text>
<text x="38" y="471.6" font-size="10.9">Age</text>
<polyline points="65.9,466.5 176.8,466.5" fill="none" stroke="#222" stroke-width="0.9"/>
<polyline points="167.3,471.7 176.8,466.5 167.3,461.3" fill="none" stroke="#222" stroke-width="0.9" stroke-linejoin="miter"/>
<line x1="194.5" y1="356.5" x2="338.8" y2="356.5" stroke="#e3e3e3" stroke-width="1" stroke-linecap="butt"/>
<line x1="194.5" y1="376.5" x2="338.8" y2="376.5" stroke="#e3e3e3" stroke-width="1" stroke-linecap="butt"/>
<line x1="194.5" y1="396.5" x2="338.8" y2="396.5" stroke="#e3e3e3" stroke-width="1" stroke-linecap="butt"/>
<line x1="194.5" y1="416.5" x2="338.8" y2="416.5" stroke="#e3e3e3" stroke-width="1" stroke-linecap="butt"/>
<line x1="194.5" y1="436.5" x2="338.8" y2="436.5" stroke="#e3e3e3" stroke-width="1" stroke-linecap="butt"/>
<line x1="208.5" y1="352.5" x2="208.5" y2="440.1" stroke="#e3e3e3" stroke-width="1" stroke-linecap="butt"/>
<line x1="233.5" y1="352.5" x2="233.5" y2="440.1" stroke="#e3e3e3" stroke-width="1" stroke-linecap="butt"/>
<line x1="257.5" y1="352.5" x2="257.5" y2="440.1" stroke="#e3e3e3" stroke-width="1" stroke-linecap="butt"/>
<line x1="282.5" y1="352.5" x2="282.5" y2="440.1" stroke="#e3e3e3" stroke-width="1" stroke-linecap="butt"/>
<line x1="306.5" y1="352.5" x2="306.5" y2="440.1" stroke="#e3e3e3" stroke-width="1" stroke-linecap="butt"/>
<line x1="331.5" y1="352.5" x2="331.5" y2="440.1" stroke="#e3e3e3" stroke-width="1" stroke-linecap="butt"/>
<line x1="194.5" y1="396.3" x2="338.8" y2="396.3" stroke="#111" stroke-width="1.6" stroke-linecap="butt" stroke-dasharray="7,4.6"/>
<circle cx="199.9" cy="406.8" r="2.35" fill="#FFA500" stroke="#2a1e00" stroke-width="0.9"/>
<circle cx="235.8" cy="398.1" r="2.35" fill="#FFA500" stroke="#2a1e00" stroke-width="0.9"/>
<circle cx="258.9" cy="392.1" r="2.35" fill="#FFA500" stroke="#2a1e00" stroke-width="0.9"/>
<circle cx="263.4" cy="391.4" r="2.35" fill="#FFA500" stroke="#2a1e00" stroke-width="0.9"/>
<circle cx="267.4" cy="402" r="2.35" fill="#FFA500" stroke="#2a1e00" stroke-width="0.9"/>
<circle cx="265.6" cy="413.2" r="2.35" fill="#FFA500" stroke="#2a1e00" stroke-width="0.9"/>
<circle cx="281.8" cy="399.6" r="2.35" fill="#FFA500" stroke="#2a1e00" stroke-width="0.9"/>
<circle cx="288.5" cy="379.2" r="2.35" fill="#FFA500" stroke="#2a1e00" stroke-width="0.9"/>
<circle cx="290.9" cy="374.3" r="2.35" fill="#FFA500" stroke="#2a1e00" stroke-width="0.9"/>
<circle cx="290.9" cy="394.6" r="2.35" fill="#FFA500" stroke="#2a1e00" stroke-width="0.9"/>
<circle cx="298.1" cy="401.1" r="2.35" fill="#FFA500" stroke="#2a1e00" stroke-width="0.9"/>
<circle cx="299.6" cy="355.4" r="2.35" fill="#FFA500" stroke="#2a1e00" stroke-width="0.9"/>
<circle cx="300.9" cy="358.1" r="2.35" fill="#FFA500" stroke="#2a1e00" stroke-width="0.9"/>
<circle cx="307.8" cy="431.1" r="2.35" fill="#FFA500" stroke="#2a1e00" stroke-width="0.9"/>
<circle cx="315.3" cy="436.8" r="2.35" fill="#FFA500" stroke="#2a1e00" stroke-width="0.9"/>
<circle cx="326.4" cy="395.6" r="2.35" fill="#FFA500" stroke="#2a1e00" stroke-width="0.9"/>
<circle cx="329.7" cy="413.2" r="2.35" fill="#FFA500" stroke="#2a1e00" stroke-width="0.9"/>
<circle cx="333.9" cy="391.4" r="2.35" fill="#FFA500" stroke="#2a1e00" stroke-width="0.9"/>
<rect x="194.5" y="352.5" width="144" height="88" fill="none" stroke="#222" stroke-width="1"/>
<line x1="188.9" y1="356.5" x2="194.5" y2="356.5" stroke="#333" stroke-width="1" stroke-linecap="butt"/>
<line x1="188.9" y1="376.5" x2="194.5" y2="376.5" stroke="#333" stroke-width="1" stroke-linecap="butt"/>
<line x1="188.9" y1="396.5" x2="194.5" y2="396.5" stroke="#333" stroke-width="1" stroke-linecap="butt"/>
<line x1="188.9" y1="416.5" x2="194.5" y2="416.5" stroke="#333" stroke-width="1" stroke-linecap="butt"/>
<line x1="188.9" y1="436.5" x2="194.5" y2="436.5" stroke="#333" stroke-width="1" stroke-linecap="butt"/>
<line x1="208.5" y1="440.1" x2="208.5" y2="445.5" stroke="#444" stroke-width="1" stroke-linecap="butt"/>
<text x="208.5" y="458.4" font-size="8.4" text-anchor="middle">4.5</text>
<line x1="233.5" y1="440.1" x2="233.5" y2="445.5" stroke="#444" stroke-width="1" stroke-linecap="butt"/>
<text x="233.1" y="458.4" font-size="8.4" text-anchor="middle">5.0</text>
<line x1="257.5" y1="440.1" x2="257.5" y2="445.5" stroke="#444" stroke-width="1" stroke-linecap="butt"/>
<text x="257.7" y="458.4" font-size="8.4" text-anchor="middle">5.5</text>
<line x1="282.5" y1="440.1" x2="282.5" y2="445.5" stroke="#444" stroke-width="1" stroke-linecap="butt"/>
<text x="282.3" y="458.4" font-size="8.4" text-anchor="middle">6.0</text>
<line x1="306.5" y1="440.1" x2="306.5" y2="445.5" stroke="#444" stroke-width="1" stroke-linecap="butt"/>
<text x="306.9" y="458.4" font-size="8.4" text-anchor="middle">6.5</text>
<line x1="331.5" y1="440.1" x2="331.5" y2="445.5" stroke="#444" stroke-width="1" stroke-linecap="butt"/>
<text x="331.5" y="458.4" font-size="8.4" text-anchor="middle">7.0</text>
<text x="191.6" y="471.6" font-size="10.9">HMGB1</text>
<polyline points="235.8,466.5 330.2,466.5" fill="none" stroke="#222" stroke-width="0.9"/>
<polyline points="320.7,471.7 330.2,466.5 320.7,461.3" fill="none" stroke="#222" stroke-width="0.9" stroke-linejoin="miter"/>
<line x1="37.9" y1="487.5" x2="181.7" y2="487.5" stroke="#e3e3e3" stroke-width="1" stroke-linecap="butt"/>
<line x1="37.9" y1="507.5" x2="181.7" y2="507.5" stroke="#e3e3e3" stroke-width="1" stroke-linecap="butt"/>
<line x1="37.9" y1="527.5" x2="181.7" y2="527.5" stroke="#e3e3e3" stroke-width="1" stroke-linecap="butt"/>
<line x1="37.9" y1="547.5" x2="181.7" y2="547.5" stroke="#e3e3e3" stroke-width="1" stroke-linecap="butt"/>
<line x1="37.9" y1="567.5" x2="181.7" y2="567.5" stroke="#e3e3e3" stroke-width="1" stroke-linecap="butt"/>
<line x1="56.5" y1="483.5" x2="56.5" y2="570.4" stroke="#e3e3e3" stroke-width="1" stroke-linecap="butt"/>
<line x1="89.5" y1="483.5" x2="89.5" y2="570.4" stroke="#e3e3e3" stroke-width="1" stroke-linecap="butt"/>
<line x1="121.5" y1="483.5" x2="121.5" y2="570.4" stroke="#e3e3e3" stroke-width="1" stroke-linecap="butt"/>
<line x1="154.5" y1="483.5" x2="154.5" y2="570.4" stroke="#e3e3e3" stroke-width="1" stroke-linecap="butt"/>
<line x1="37.9" y1="527.3" x2="181.7" y2="527.3" stroke="#111" stroke-width="1.6" stroke-linecap="butt" stroke-dasharray="7,4.6"/>
<circle cx="42.8" cy="510" r="2.35" fill="#FFA500" stroke="#2a1e00" stroke-width="0.9"/>
<circle cx="57.7" cy="561.9" r="2.35" fill="#FFA500" stroke="#2a1e00" stroke-width="0.9"/>
<circle cx="63.9" cy="526.4" r="2.35" fill="#FFA500" stroke="#2a1e00" stroke-width="0.9"/>
<circle cx="65.4" cy="522.2" r="2.35" fill="#FFA500" stroke="#2a1e00" stroke-width="0.9"/>
<circle cx="71.1" cy="528.6" r="2.35" fill="#FFA500" stroke="#2a1e00" stroke-width="0.9"/>
<circle cx="74.8" cy="522.9" r="2.35" fill="#FFA500" stroke="#2a1e00" stroke-width="0.9"/>
<circle cx="75.8" cy="530.1" r="2.35" fill="#FFA500" stroke="#2a1e00" stroke-width="0.9"/>
<circle cx="77.5" cy="544" r="2.35" fill="#FFA500" stroke="#2a1e00" stroke-width="0.9"/>
<circle cx="85.5" cy="505.3" r="2.35" fill="#FFA500" stroke="#2a1e00" stroke-width="0.9"/>
<circle cx="89.5" cy="567.6" r="2.35" fill="#FFA500" stroke="#2a1e00" stroke-width="0.9"/>
<circle cx="92.7" cy="488.9" r="2.35" fill="#FFA500" stroke="#2a1e00" stroke-width="0.9"/>
<circle cx="94.4" cy="486.4" r="2.35" fill="#FFA500" stroke="#2a1e00" stroke-width="0.9"/>
<circle cx="93.7" cy="525.4" r="2.35" fill="#FFA500" stroke="#2a1e00" stroke-width="0.9"/>
<circle cx="96.9" cy="544" r="2.35" fill="#FFA500" stroke="#2a1e00" stroke-width="0.9"/>
<circle cx="100.1" cy="532.1" r="2.35" fill="#FFA500" stroke="#2a1e00" stroke-width="0.9"/>
<circle cx="103.9" cy="532.6" r="2.35" fill="#FFA500" stroke="#2a1e00" stroke-width="0.9"/>
<circle cx="155.7" cy="537.5" r="2.35" fill="#FFA500" stroke="#2a1e00" stroke-width="0.9"/>
<circle cx="175.8" cy="521.9" r="2.35" fill="#FFA500" stroke="#2a1e00" stroke-width="0.9"/>
<line x1="37.9" y1="483.5" x2="37.9" y2="570.4" stroke="#222" stroke-width="1" stroke-linecap="butt"/>
<line x1="37.9" y1="483.5" x2="181.7" y2="483.5" stroke="#222" stroke-width="1" stroke-linecap="butt"/>
<line x1="37.9" y1="570.5" x2="181.7" y2="570.5" stroke="#222" stroke-width="1" stroke-linecap="butt"/>
<line x1="181.5" y1="483" x2="181.5" y2="570.9" stroke="#222" stroke-width="1" stroke-linecap="butt"/>
<line x1="32.3" y1="487.5" x2="37.9" y2="487.5" stroke="#333" stroke-width="1" stroke-linecap="butt"/>
<text x="0" y="0" font-size="9.5" text-anchor="middle" transform="translate(25.3 487.4) rotate(-90) scale(0.88 1)">4</text>
<line x1="32.3" y1="507.5" x2="37.9" y2="507.5" stroke="#333" stroke-width="1" stroke-linecap="butt"/>
<text x="0" y="0" font-size="9.5" text-anchor="middle" transform="translate(25.3 507.35) rotate(-90) scale(0.88 1)">2</text>
<line x1="32.3" y1="527.5" x2="37.9" y2="527.5" stroke="#333" stroke-width="1" stroke-linecap="butt"/>
<text x="0" y="0" font-size="9.5" text-anchor="middle" transform="translate(25.3 527.3) rotate(-90) scale(0.88 1)">0</text>
<line x1="32.3" y1="547.5" x2="37.9" y2="547.5" stroke="#333" stroke-width="1" stroke-linecap="butt"/>
<text x="0" y="0" font-size="9.5" text-anchor="middle" transform="translate(25.3 547.25) rotate(-90) scale(0.88 1)">-2</text>
<line x1="32.3" y1="567.5" x2="37.9" y2="567.5" stroke="#333" stroke-width="1" stroke-linecap="butt"/>
<text x="0" y="0" font-size="9.5" text-anchor="middle" transform="translate(25.3 567.2) rotate(-90) scale(0.88 1)">-4</text>
<line x1="56.5" y1="570.4" x2="56.5" y2="575.8" stroke="#444" stroke-width="1" stroke-linecap="butt"/>
<text x="56.4" y="590.4" font-size="8.4" text-anchor="middle">7</text>
<line x1="89.5" y1="570.4" x2="89.5" y2="575.8" stroke="#444" stroke-width="1" stroke-linecap="butt"/>
<text x="89.1" y="590.4" font-size="8.4" text-anchor="middle">8</text>
<line x1="121.5" y1="570.4" x2="121.5" y2="575.8" stroke="#444" stroke-width="1" stroke-linecap="butt"/>
<text x="121.8" y="590.4" font-size="8.4" text-anchor="middle">9</text>
<line x1="154.5" y1="570.4" x2="154.5" y2="575.8" stroke="#444" stroke-width="1" stroke-linecap="butt"/>
<text x="154.5" y="590.4" font-size="8.4" text-anchor="middle">10</text>
<text x="32.8" y="602.9" font-size="10.9">AKR1B1</text>
<polyline points="79.5,598.5 177.6,598.5" fill="none" stroke="#222" stroke-width="0.9"/>
<polyline points="168.1,603.7 177.6,598.5 168.1,593.3" fill="none" stroke="#222" stroke-width="0.9" stroke-linejoin="miter"/>
<line x1="195" y1="487.5" x2="338.8" y2="487.5" stroke="#e3e3e3" stroke-width="1" stroke-linecap="butt"/>
<line x1="195" y1="507.5" x2="338.8" y2="507.5" stroke="#e3e3e3" stroke-width="1" stroke-linecap="butt"/>
<line x1="195" y1="527.5" x2="338.8" y2="527.5" stroke="#e3e3e3" stroke-width="1" stroke-linecap="butt"/>
<line x1="195" y1="547.5" x2="338.8" y2="547.5" stroke="#e3e3e3" stroke-width="1" stroke-linecap="butt"/>
<line x1="195" y1="567.5" x2="338.8" y2="567.5" stroke="#e3e3e3" stroke-width="1" stroke-linecap="butt"/>
<line x1="197.5" y1="483.5" x2="197.5" y2="570.4" stroke="#e3e3e3" stroke-width="1" stroke-linecap="butt"/>
<line x1="223.5" y1="483.5" x2="223.5" y2="570.4" stroke="#e3e3e3" stroke-width="1" stroke-linecap="butt"/>
<line x1="248.5" y1="483.5" x2="248.5" y2="570.4" stroke="#e3e3e3" stroke-width="1" stroke-linecap="butt"/>
<line x1="274.5" y1="483.5" x2="274.5" y2="570.4" stroke="#e3e3e3" stroke-width="1" stroke-linecap="butt"/>
<line x1="299.5" y1="483.5" x2="299.5" y2="570.4" stroke="#e3e3e3" stroke-width="1" stroke-linecap="butt"/>
<line x1="325.5" y1="483.5" x2="325.5" y2="570.4" stroke="#e3e3e3" stroke-width="1" stroke-linecap="butt"/>
<line x1="195" y1="527.3" x2="338.8" y2="527.3" stroke="#111" stroke-width="1.6" stroke-linecap="butt" stroke-dasharray="7,4.6"/>
<circle cx="200.6" cy="537.3" r="2.35" fill="#FFA500" stroke="#2a1e00" stroke-width="0.9"/>
<circle cx="210.3" cy="509.7" r="2.35" fill="#FFA500" stroke="#2a1e00" stroke-width="0.9"/>
<circle cx="216.7" cy="543.8" r="2.35" fill="#FFA500" stroke="#2a1e00" stroke-width="0.9"/>
<circle cx="251.5" cy="505" r="2.35" fill="#FFA500" stroke="#2a1e00" stroke-width="0.9"/>
<circle cx="256.7" cy="488.7" r="2.35" fill="#FFA500" stroke="#2a1e00" stroke-width="0.9"/>
<circle cx="258.9" cy="521.9" r="2.35" fill="#FFA500" stroke="#2a1e00" stroke-width="0.9"/>
<circle cx="265.4" cy="530.1" r="2.35" fill="#FFA500" stroke="#2a1e00" stroke-width="0.9"/>
<circle cx="280" cy="524.9" r="2.35" fill="#FFA500" stroke="#2a1e00" stroke-width="0.9"/>
<circle cx="280.8" cy="532.6" r="2.35" fill="#FFA500" stroke="#2a1e00" stroke-width="0.9"/>
<circle cx="285.2" cy="528.4" r="2.35" fill="#FFA500" stroke="#2a1e00" stroke-width="0.9"/>
<circle cx="286" cy="522.7" r="2.35" fill="#FFA500" stroke="#2a1e00" stroke-width="0.9"/>
<circle cx="287.2" cy="525.9" r="2.35" fill="#FFA500" stroke="#2a1e00" stroke-width="0.9"/>
<circle cx="286.7" cy="532.1" r="2.35" fill="#FFA500" stroke="#2a1e00" stroke-width="0.9"/>
<circle cx="290.9" cy="543.8" r="2.35" fill="#FFA500" stroke="#2a1e00" stroke-width="0.9"/>
<circle cx="285" cy="561.6" r="2.35" fill="#FFA500" stroke="#2a1e00" stroke-width="0.9"/>
<circle cx="279.3" cy="567.3" r="2.35" fill="#FFA500" stroke="#2a1e00" stroke-width="0.9"/>
<circle cx="302.6" cy="486.2" r="2.35" fill="#FFA500" stroke="#2a1e00" stroke-width="0.9"/>
<circle cx="333.6" cy="521.9" r="2.35" fill="#FFA500" stroke="#2a1e00" stroke-width="0.9"/>
<line x1="195" y1="483.5" x2="195" y2="570.4" stroke="#222" stroke-width="1" stroke-linecap="butt"/>
<line x1="195" y1="483.5" x2="338.8" y2="483.5" stroke="#222" stroke-width="1" stroke-linecap="butt"/>
<line x1="195" y1="570.5" x2="338.8" y2="570.5" stroke="#222" stroke-width="1" stroke-linecap="butt"/>
<line x1="338.5" y1="483" x2="338.5" y2="570.9" stroke="#222" stroke-width="1" stroke-linecap="butt"/>
<line x1="189.4" y1="487.5" x2="195" y2="487.5" stroke="#333" stroke-width="1" stroke-linecap="butt"/>
<line x1="189.4" y1="507.5" x2="195" y2="507.5" stroke="#333" stroke-width="1" stroke-linecap="butt"/>
<line x1="189.4" y1="527.5" x2="195" y2="527.5" stroke="#333" stroke-width="1" stroke-linecap="butt"/>
<line x1="189.4" y1="547.5" x2="195" y2="547.5" stroke="#333" stroke-width="1" stroke-linecap="butt"/>
<line x1="189.4" y1="567.5" x2="195" y2="567.5" stroke="#333" stroke-width="1" stroke-linecap="butt"/>
<line x1="197.5" y1="570.4" x2="197.5" y2="575.8" stroke="#444" stroke-width="1" stroke-linecap="butt"/>
<text x="197.4" y="590.4" font-size="8.4" text-anchor="middle">5.0</text>
<line x1="223.5" y1="570.4" x2="223.5" y2="575.8" stroke="#444" stroke-width="1" stroke-linecap="butt"/>
<text x="223" y="590.4" font-size="8.4" text-anchor="middle">5.5</text>
<line x1="248.5" y1="570.4" x2="248.5" y2="575.8" stroke="#444" stroke-width="1" stroke-linecap="butt"/>
<text x="248.6" y="590.4" font-size="8.4" text-anchor="middle">6.0</text>
<line x1="274.5" y1="570.4" x2="274.5" y2="575.8" stroke="#444" stroke-width="1" stroke-linecap="butt"/>
<text x="274.2" y="590.4" font-size="8.4" text-anchor="middle">6.5</text>
<line x1="299.5" y1="570.4" x2="299.5" y2="575.8" stroke="#444" stroke-width="1" stroke-linecap="butt"/>
<text x="299.8" y="590.4" font-size="8.4" text-anchor="middle">7.0</text>
<line x1="325.5" y1="570.4" x2="325.5" y2="575.8" stroke="#444" stroke-width="1" stroke-linecap="butt"/>
<text x="325.4" y="590.4" font-size="8.4" text-anchor="middle">7.5</text>
<text x="190.4" y="604.1" font-size="10.9">FN3K</text>
<polyline points="223.4,599.5 330.2,599.5" fill="none" stroke="#222" stroke-width="0.9"/>
<polyline points="320.7,604.7 330.2,599.5 320.7,594.3" fill="none" stroke="#222" stroke-width="0.9" stroke-linejoin="miter"/>
<line x1="36.6" y1="616.5" x2="180" y2="616.5" stroke="#e3e3e3" stroke-width="1" stroke-linecap="butt"/>
<line x1="36.6" y1="636.5" x2="180" y2="636.5" stroke="#e3e3e3" stroke-width="1" stroke-linecap="butt"/>
<line x1="36.6" y1="656.5" x2="180" y2="656.5" stroke="#e3e3e3" stroke-width="1" stroke-linecap="butt"/>
<line x1="36.6" y1="676.5" x2="180" y2="676.5" stroke="#e3e3e3" stroke-width="1" stroke-linecap="butt"/>
<line x1="36.6" y1="696.5" x2="180" y2="696.5" stroke="#e3e3e3" stroke-width="1" stroke-linecap="butt"/>
<line x1="59.5" y1="612.5" x2="59.5" y2="699.4" stroke="#e3e3e3" stroke-width="1" stroke-linecap="butt"/>
<line x1="88.5" y1="612.5" x2="88.5" y2="699.4" stroke="#e3e3e3" stroke-width="1" stroke-linecap="butt"/>
<line x1="117.5" y1="612.5" x2="117.5" y2="699.4" stroke="#e3e3e3" stroke-width="1" stroke-linecap="butt"/>
<line x1="146.5" y1="612.5" x2="146.5" y2="699.4" stroke="#e3e3e3" stroke-width="1" stroke-linecap="butt"/>
<line x1="175.5" y1="612.5" x2="175.5" y2="699.4" stroke="#e3e3e3" stroke-width="1" stroke-linecap="butt"/>
<line x1="36.6" y1="656.3" x2="180" y2="656.3" stroke="#111" stroke-width="1.6" stroke-linecap="butt" stroke-dasharray="7,4.6"/>
<circle cx="41.8" cy="651.2" r="2.35" fill="#FFA500" stroke="#2a1e00" stroke-width="0.9"/>
<circle cx="57.2" cy="657.6" r="2.35" fill="#FFA500" stroke="#2a1e00" stroke-width="0.9"/>
<circle cx="63.6" cy="651.2" r="2.35" fill="#FFA500" stroke="#2a1e00" stroke-width="0.9"/>
<circle cx="68.4" cy="660.8" r="2.35" fill="#FFA500" stroke="#2a1e00" stroke-width="0.9"/>
<circle cx="77.1" cy="654.1" r="2.35" fill="#FFA500" stroke="#2a1e00" stroke-width="0.9"/>
<circle cx="81.5" cy="655.4" r="2.35" fill="#FFA500" stroke="#2a1e00" stroke-width="0.9"/>
<circle cx="87" cy="634" r="2.35" fill="#FFA500" stroke="#2a1e00" stroke-width="0.9"/>
<circle cx="91" cy="690.6" r="2.35" fill="#FFA500" stroke="#2a1e00" stroke-width="0.9"/>
<circle cx="97.4" cy="666.3" r="2.35" fill="#FFA500" stroke="#2a1e00" stroke-width="0.9"/>
<circle cx="111.3" cy="615.4" r="2.35" fill="#FFA500" stroke="#2a1e00" stroke-width="0.9"/>
<circle cx="112" cy="673" r="2.35" fill="#FFA500" stroke="#2a1e00" stroke-width="0.9"/>
<circle cx="121" cy="617.9" r="2.35" fill="#FFA500" stroke="#2a1e00" stroke-width="0.9"/>
<circle cx="122.2" cy="673" r="2.35" fill="#FFA500" stroke="#2a1e00" stroke-width="0.9"/>
<circle cx="121" cy="696.3" r="2.35" fill="#FFA500" stroke="#2a1e00" stroke-width="0.9"/>
<circle cx="127.2" cy="659.1" r="2.35" fill="#FFA500" stroke="#2a1e00" stroke-width="0.9"/>
<circle cx="141.8" cy="651.9" r="2.35" fill="#FFA500" stroke="#2a1e00" stroke-width="0.9"/>
<circle cx="144.1" cy="639" r="2.35" fill="#FFA500" stroke="#2a1e00" stroke-width="0.9"/>
<circle cx="175.1" cy="661.8" r="2.35" fill="#FFA500" stroke="#2a1e00" stroke-width="0.9"/>
<rect x="36.5" y="612.5" width="144" height="87" fill="none" stroke="#222" stroke-width="1"/>
<line x1="31" y1="616.5" x2="36.6" y2="616.5" stroke="#333" stroke-width="1" stroke-linecap="butt"/>
<text x="0" y="0" font-size="9.5" text-anchor="middle" transform="translate(25.3 616.4) rotate(-90) scale(0.88 1)">4</text>
<line x1="31" y1="636.5" x2="36.6" y2="636.5" stroke="#333" stroke-width="1" stroke-linecap="butt"/>
<text x="0" y="0" font-size="9.5" text-anchor="middle" transform="translate(25.3 636.35) rotate(-90) scale(0.88 1)">2</text>
<line x1="31" y1="656.5" x2="36.6" y2="656.5" stroke="#333" stroke-width="1" stroke-linecap="butt"/>
<text x="0" y="0" font-size="9.5" text-anchor="middle" transform="translate(25.3 656.3) rotate(-90) scale(0.88 1)">0</text>
<line x1="31" y1="676.5" x2="36.6" y2="676.5" stroke="#333" stroke-width="1" stroke-linecap="butt"/>
<text x="0" y="0" font-size="9.5" text-anchor="middle" transform="translate(25.3 676.25) rotate(-90) scale(0.88 1)">-2</text>
<line x1="31" y1="696.5" x2="36.6" y2="696.5" stroke="#333" stroke-width="1" stroke-linecap="butt"/>
<text x="0" y="0" font-size="9.5" text-anchor="middle" transform="translate(25.3 696.2) rotate(-90) scale(0.88 1)">-4</text>
<line x1="59.5" y1="699.4" x2="59.5" y2="704.8" stroke="#444" stroke-width="1" stroke-linecap="butt"/>
<text x="59.2" y="719" font-size="8.4" text-anchor="middle">6</text>
<line x1="88.5" y1="699.4" x2="88.5" y2="704.8" stroke="#444" stroke-width="1" stroke-linecap="butt"/>
<text x="88.2" y="719" font-size="8.4" text-anchor="middle">7</text>
<line x1="117.5" y1="699.4" x2="117.5" y2="704.8" stroke="#444" stroke-width="1" stroke-linecap="butt"/>
<text x="117.2" y="719" font-size="8.4" text-anchor="middle">8</text>
<line x1="146.5" y1="699.4" x2="146.5" y2="704.8" stroke="#444" stroke-width="1" stroke-linecap="butt"/>
<text x="146.2" y="719" font-size="8.4" text-anchor="middle">9</text>
<line x1="175.5" y1="699.4" x2="175.5" y2="704.8" stroke="#444" stroke-width="1" stroke-linecap="butt"/>
<text x="175.2" y="719" font-size="8.4" text-anchor="middle">10</text>
<text x="34.6" y="734.1" font-size="10.9">RELA</text>
<polyline points="70.1,729.5 177.6,729.5" fill="none" stroke="#222" stroke-width="0.9"/>
<polyline points="168.1,734.7 177.6,729.5 168.1,724.3" fill="none" stroke="#222" stroke-width="0.9" stroke-linejoin="miter"/>
<line x1="194.3" y1="616.5" x2="338.8" y2="616.5" stroke="#e3e3e3" stroke-width="1" stroke-linecap="butt"/>
<line x1="194.3" y1="636.5" x2="338.8" y2="636.5" stroke="#e3e3e3" stroke-width="1" stroke-linecap="butt"/>
<line x1="194.3" y1="656.5" x2="338.8" y2="656.5" stroke="#e3e3e3" stroke-width="1" stroke-linecap="butt"/>
<line x1="194.3" y1="676.5" x2="338.8" y2="676.5" stroke="#e3e3e3" stroke-width="1" stroke-linecap="butt"/>
<line x1="194.3" y1="696.5" x2="338.8" y2="696.5" stroke="#e3e3e3" stroke-width="1" stroke-linecap="butt"/>
<line x1="199.5" y1="612.5" x2="199.5" y2="700" stroke="#e3e3e3" stroke-width="1" stroke-linecap="butt"/>
<line x1="246.5" y1="612.5" x2="246.5" y2="700" stroke="#e3e3e3" stroke-width="1" stroke-linecap="butt"/>
<line x1="292.5" y1="612.5" x2="292.5" y2="700" stroke="#e3e3e3" stroke-width="1" stroke-linecap="butt"/>
<line x1="194.3" y1="656.2" x2="338.8" y2="656.2" stroke="#111" stroke-width="1.6" stroke-linecap="butt" stroke-dasharray="7,4.6"/>
<circle cx="198.9" cy="651.4" r="2.35" fill="#FFA500" stroke="#2a1e00" stroke-width="0.9"/>
<circle cx="213.5" cy="666.8" r="2.35" fill="#FFA500" stroke="#2a1e00" stroke-width="0.9"/>
<circle cx="240.1" cy="651.4" r="2.35" fill="#FFA500" stroke="#2a1e00" stroke-width="0.9"/>
<circle cx="261.4" cy="657.9" r="2.35" fill="#FFA500" stroke="#2a1e00" stroke-width="0.9"/>
<circle cx="272.6" cy="618.2" r="2.35" fill="#FFA500" stroke="#2a1e00" stroke-width="0.9"/>
<circle cx="276.8" cy="654.6" r="2.35" fill="#FFA500" stroke="#2a1e00" stroke-width="0.9"/>
<circle cx="286" cy="662.1" r="2.35" fill="#FFA500" stroke="#2a1e00" stroke-width="0.9"/>
<circle cx="291.4" cy="634.3" r="2.35" fill="#FFA500" stroke="#2a1e00" stroke-width="0.9"/>
<circle cx="291.4" cy="673.3" r="2.35" fill="#FFA500" stroke="#2a1e00" stroke-width="0.9"/>
<circle cx="297.2" cy="639.3" r="2.35" fill="#FFA500" stroke="#2a1e00" stroke-width="0.9"/>
<circle cx="298.1" cy="659.6" r="2.35" fill="#FFA500" stroke="#2a1e00" stroke-width="0.9"/>
<circle cx="300.4" cy="652.2" r="2.35" fill="#FFA500" stroke="#2a1e00" stroke-width="0.9"/>
<circle cx="303.6" cy="673.3" r="2.35" fill="#FFA500" stroke="#2a1e00" stroke-width="0.9"/>
<circle cx="298.6" cy="696.8" r="2.35" fill="#FFA500" stroke="#2a1e00" stroke-width="0.9"/>
<circle cx="309.1" cy="691.1" r="2.35" fill="#FFA500" stroke="#2a1e00" stroke-width="0.9"/>
<circle cx="321.5" cy="655.6" r="2.35" fill="#FFA500" stroke="#2a1e00" stroke-width="0.9"/>
<circle cx="327.2" cy="661.1" r="2.35" fill="#FFA500" stroke="#2a1e00" stroke-width="0.9"/>
<circle cx="332.6" cy="615.7" r="2.35" fill="#FFA500" stroke="#2a1e00" stroke-width="0.9"/>
<rect x="194.5" y="612.5" width="144" height="88" fill="none" stroke="#222" stroke-width="1"/>
<line x1="188.7" y1="616.5" x2="194.3" y2="616.5" stroke="#333" stroke-width="1" stroke-linecap="butt"/>
<line x1="188.7" y1="636.5" x2="194.3" y2="636.5" stroke="#333" stroke-width="1" stroke-linecap="butt"/>
<line x1="188.7" y1="656.5" x2="194.3" y2="656.5" stroke="#333" stroke-width="1" stroke-linecap="butt"/>
<line x1="188.7" y1="676.5" x2="194.3" y2="676.5" stroke="#333" stroke-width="1" stroke-linecap="butt"/>
<line x1="188.7" y1="696.5" x2="194.3" y2="696.5" stroke="#333" stroke-width="1" stroke-linecap="butt"/>
<line x1="199.5" y1="700" x2="199.5" y2="705.4" stroke="#444" stroke-width="1" stroke-linecap="butt"/>
<text x="199.9" y="719" font-size="8.4" text-anchor="middle">10</text>
<line x1="246.5" y1="700" x2="246.5" y2="705.4" stroke="#444" stroke-width="1" stroke-linecap="butt"/>
<text x="246.1" y="719" font-size="8.4" text-anchor="middle">15</text>
<line x1="292.5" y1="700" x2="292.5" y2="705.4" stroke="#444" stroke-width="1" stroke-linecap="butt"/>
<text x="292.3" y="719" font-size="8.4" text-anchor="middle">20</text>
<text x="190.4" y="734.1" font-size="10.9">JAK1</text>
<polyline points="222.7,729.5 330.2,729.5" fill="none" stroke="#222" stroke-width="0.9"/>
<polyline points="320.7,734.7 330.2,729.5 320.7,724.3" fill="none" stroke="#222" stroke-width="0.9" stroke-linejoin="miter"/>
<line x1="37.5" y1="749.5" x2="181.2" y2="749.5" stroke="#e3e3e3" stroke-width="1" stroke-linecap="butt"/>
<line x1="37.5" y1="769.5" x2="181.2" y2="769.5" stroke="#e3e3e3" stroke-width="1" stroke-linecap="butt"/>
<line x1="37.5" y1="789.5" x2="181.2" y2="789.5" stroke="#e3e3e3" stroke-width="1" stroke-linecap="butt"/>
<line x1="37.5" y1="809.5" x2="181.2" y2="809.5" stroke="#e3e3e3" stroke-width="1" stroke-linecap="butt"/>
<line x1="37.5" y1="829.5" x2="181.2" y2="829.5" stroke="#e3e3e3" stroke-width="1" stroke-linecap="butt"/>
<line x1="50.5" y1="745.4" x2="50.5" y2="832.4" stroke="#e3e3e3" stroke-width="1" stroke-linecap="butt"/>
<line x1="71.5" y1="745.4" x2="71.5" y2="832.4" stroke="#e3e3e3" stroke-width="1" stroke-linecap="butt"/>
<line x1="93.5" y1="745.4" x2="93.5" y2="832.4" stroke="#e3e3e3" stroke-width="1" stroke-linecap="butt"/>
<line x1="114.5" y1="745.4" x2="114.5" y2="832.4" stroke="#e3e3e3" stroke-width="1" stroke-linecap="butt"/>
<line x1="136.5" y1="745.4" x2="136.5" y2="832.4" stroke="#e3e3e3" stroke-width="1" stroke-linecap="butt"/>
<line x1="157.5" y1="745.4" x2="157.5" y2="832.4" stroke="#e3e3e3" stroke-width="1" stroke-linecap="butt"/>
<line x1="179.5" y1="745.4" x2="179.5" y2="832.4" stroke="#e3e3e3" stroke-width="1" stroke-linecap="butt"/>
<line x1="37.5" y1="789.3" x2="181.2" y2="789.3" stroke="#111" stroke-width="1.6" stroke-linecap="butt" stroke-dasharray="7,4.6"/>
<circle cx="42.7" cy="783.9" r="2.35" fill="#FFA500" stroke="#2a1e00" stroke-width="0.9"/>
<circle cx="65.4" cy="799.3" r="2.35" fill="#FFA500" stroke="#2a1e00" stroke-width="0.9"/>
<circle cx="100.2" cy="783.9" r="2.35" fill="#FFA500" stroke="#2a1e00" stroke-width="0.9"/>
<circle cx="108.3" cy="793.3" r="2.35" fill="#FFA500" stroke="#2a1e00" stroke-width="0.9"/>
<circle cx="114" cy="787.7" r="2.35" fill="#FFA500" stroke="#2a1e00" stroke-width="0.9"/>
<circle cx="117.2" cy="748" r="2.35" fill="#FFA500" stroke="#2a1e00" stroke-width="0.9"/>
<circle cx="118" cy="790.4" r="2.35" fill="#FFA500" stroke="#2a1e00" stroke-width="0.9"/>
<circle cx="127.5" cy="805.8" r="2.35" fill="#FFA500" stroke="#2a1e00" stroke-width="0.9"/>
<circle cx="131.5" cy="786.9" r="2.35" fill="#FFA500" stroke="#2a1e00" stroke-width="0.9"/>
<circle cx="143.1" cy="791.7" r="2.35" fill="#FFA500" stroke="#2a1e00" stroke-width="0.9"/>
<circle cx="143.9" cy="823.3" r="2.35" fill="#FFA500" stroke="#2a1e00" stroke-width="0.9"/>
<circle cx="146.1" cy="766.9" r="2.35" fill="#FFA500" stroke="#2a1e00" stroke-width="0.9"/>
<circle cx="151.8" cy="784.7" r="2.35" fill="#FFA500" stroke="#2a1e00" stroke-width="0.9"/>
<circle cx="154.2" cy="771.7" r="2.35" fill="#FFA500" stroke="#2a1e00" stroke-width="0.9"/>
<circle cx="154.7" cy="805.8" r="2.35" fill="#FFA500" stroke="#2a1e00" stroke-width="0.9"/>
<circle cx="159.9" cy="829" r="2.35" fill="#FFA500" stroke="#2a1e00" stroke-width="0.9"/>
<circle cx="163.9" cy="794.1" r="2.35" fill="#FFA500" stroke="#2a1e00" stroke-width="0.9"/>
<circle cx="175.5" cy="750.4" r="2.35" fill="#FFA500" stroke="#2a1e00" stroke-width="0.9"/>
<rect x="37.5" y="745.5" width="144" height="87" fill="none" stroke="#222" stroke-width="1"/>
<line x1="31.9" y1="749.5" x2="37.5" y2="749.5" stroke="#333" stroke-width="1" stroke-linecap="butt"/>
<text x="0" y="0" font-size="9.5" text-anchor="middle" transform="translate(25.3 749.4) rotate(-90) scale(0.88 1)">4</text>
<line x1="31.9" y1="769.5" x2="37.5" y2="769.5" stroke="#333" stroke-width="1" stroke-linecap="butt"/>
<text x="0" y="0" font-size="9.5" text-anchor="middle" transform="translate(25.3 769.35) rotate(-90) scale(0.88 1)">2</text>
<line x1="31.9" y1="789.5" x2="37.5" y2="789.5" stroke="#333" stroke-width="1" stroke-linecap="butt"/>
<text x="0" y="0" font-size="9.5" text-anchor="middle" transform="translate(25.3 789.3) rotate(-90) scale(0.88 1)">0</text>
<line x1="31.9" y1="809.5" x2="37.5" y2="809.5" stroke="#333" stroke-width="1" stroke-linecap="butt"/>
<text x="0" y="0" font-size="9.5" text-anchor="middle" transform="translate(25.3 809.25) rotate(-90) scale(0.88 1)">-2</text>
<line x1="31.9" y1="829.5" x2="37.5" y2="829.5" stroke="#333" stroke-width="1" stroke-linecap="butt"/>
<text x="0" y="0" font-size="9.5" text-anchor="middle" transform="translate(25.3 829.2) rotate(-90) scale(0.88 1)">-4</text>
<line x1="50.5" y1="832.4" x2="50.5" y2="837.8" stroke="#444" stroke-width="1" stroke-linecap="butt"/>
<text x="50" y="852.2" font-size="8.4" text-anchor="middle">8</text>
<line x1="71.5" y1="832.4" x2="71.5" y2="837.8" stroke="#444" stroke-width="1" stroke-linecap="butt"/>
<text x="71.5" y="852.2" font-size="8.4" text-anchor="middle">10</text>
<line x1="93.5" y1="832.4" x2="93.5" y2="837.8" stroke="#444" stroke-width="1" stroke-linecap="butt"/>
<text x="93" y="852.2" font-size="8.4" text-anchor="middle">12</text>
<line x1="114.5" y1="832.4" x2="114.5" y2="837.8" stroke="#444" stroke-width="1" stroke-linecap="butt"/>
<text x="114.5" y="852.2" font-size="8.4" text-anchor="middle">14</text>
<line x1="136.5" y1="832.4" x2="136.5" y2="837.8" stroke="#444" stroke-width="1" stroke-linecap="butt"/>
<text x="136" y="852.2" font-size="8.4" text-anchor="middle">16</text>
<line x1="157.5" y1="832.4" x2="157.5" y2="837.8" stroke="#444" stroke-width="1" stroke-linecap="butt"/>
<text x="157.5" y="852.2" font-size="8.4" text-anchor="middle">18</text>
<line x1="179.5" y1="832.4" x2="179.5" y2="837.8" stroke="#444" stroke-width="1" stroke-linecap="butt"/>
<text x="179" y="852.2" font-size="8.4" text-anchor="middle">20</text>
<text x="33" y="864.4" font-size="10.9">STAT3</text>
<polyline points="72.4,860.5 176.9,860.5" fill="none" stroke="#222" stroke-width="0.9"/>
<polyline points="167.4,865.7 176.9,860.5 167.4,855.3" fill="none" stroke="#222" stroke-width="0.9" stroke-linejoin="miter"/>
<line x1="193.5" y1="749.5" x2="338.6" y2="749.5" stroke="#e3e3e3" stroke-width="1" stroke-linecap="butt"/>
<line x1="193.5" y1="769.5" x2="338.6" y2="769.5" stroke="#e3e3e3" stroke-width="1" stroke-linecap="butt"/>
<line x1="193.5" y1="789.5" x2="338.6" y2="789.5" stroke="#e3e3e3" stroke-width="1" stroke-linecap="butt"/>
<line x1="193.5" y1="809.5" x2="338.6" y2="809.5" stroke="#e3e3e3" stroke-width="1" stroke-linecap="butt"/>
<line x1="193.5" y1="829.5" x2="338.6" y2="829.5" stroke="#e3e3e3" stroke-width="1" stroke-linecap="butt"/>
<line x1="219.5" y1="745.6" x2="219.5" y2="833.2" stroke="#e3e3e3" stroke-width="1" stroke-linecap="butt"/>
<line x1="251.5" y1="745.6" x2="251.5" y2="833.2" stroke="#e3e3e3" stroke-width="1" stroke-linecap="butt"/>
<line x1="284.5" y1="745.6" x2="284.5" y2="833.2" stroke="#e3e3e3" stroke-width="1" stroke-linecap="butt"/>
<line x1="316.5" y1="745.6" x2="316.5" y2="833.2" stroke="#e3e3e3" stroke-width="1" stroke-linecap="butt"/>
<line x1="193.5" y1="789.65" x2="338.6" y2="789.65" stroke="#111" stroke-width="1.6" stroke-linecap="butt" stroke-dasharray="7,4.6"/>
<circle cx="199.4" cy="784.6" r="2.35" fill="#FFA500" stroke="#2a1e00" stroke-width="0.9"/>
<circle cx="262.7" cy="784.6" r="2.35" fill="#FFA500" stroke="#2a1e00" stroke-width="0.9"/>
<circle cx="265.4" cy="767.5" r="2.35" fill="#FFA500" stroke="#2a1e00" stroke-width="0.9"/>
<circle cx="267.4" cy="788.4" r="2.35" fill="#FFA500" stroke="#2a1e00" stroke-width="0.9"/>
<circle cx="266.9" cy="791.3" r="2.35" fill="#FFA500" stroke="#2a1e00" stroke-width="0.9"/>
<circle cx="270.3" cy="794.1" r="2.35" fill="#FFA500" stroke="#2a1e00" stroke-width="0.9"/>
<circle cx="275.1" cy="800" r="2.35" fill="#FFA500" stroke="#2a1e00" stroke-width="0.9"/>
<circle cx="278.8" cy="806.5" r="2.35" fill="#FFA500" stroke="#2a1e00" stroke-width="0.9"/>
<circle cx="280.5" cy="806.5" r="2.35" fill="#FFA500" stroke="#2a1e00" stroke-width="0.9"/>
<circle cx="292.2" cy="792.6" r="2.35" fill="#FFA500" stroke="#2a1e00" stroke-width="0.9"/>
<circle cx="297.6" cy="751.6" r="2.35" fill="#FFA500" stroke="#2a1e00" stroke-width="0.9"/>
<circle cx="300.4" cy="749.1" r="2.35" fill="#FFA500" stroke="#2a1e00" stroke-width="0.9"/>
<circle cx="296.9" cy="823.9" r="2.35" fill="#FFA500" stroke="#2a1e00" stroke-width="0.9"/>
<circle cx="298.9" cy="829.8" r="2.35" fill="#FFA500" stroke="#2a1e00" stroke-width="0.9"/>
<circle cx="305.1" cy="787.9" r="2.35" fill="#FFA500" stroke="#2a1e00" stroke-width="0.9"/>
<circle cx="312.3" cy="772.5" r="2.35" fill="#FFA500" stroke="#2a1e00" stroke-width="0.9"/>
<circle cx="332.6" cy="785.4" r="2.35" fill="#FFA500" stroke="#2a1e00" stroke-width="0.9"/>
<circle cx="333.6" cy="795.1" r="2.35" fill="#FFA500" stroke="#2a1e00" stroke-width="0.9"/>
<rect x="193.5" y="745.5" width="145" height="88" fill="none" stroke="#222" stroke-width="1"/>
<line x1="187.9" y1="749.5" x2="193.5" y2="749.5" stroke="#333" stroke-width="1" stroke-linecap="butt"/>
<line x1="187.9" y1="769.5" x2="193.5" y2="769.5" stroke="#333" stroke-width="1" stroke-linecap="butt"/>
<line x1="187.9" y1="789.5" x2="193.5" y2="789.5" stroke="#333" stroke-width="1" stroke-linecap="butt"/>
<line x1="187.9" y1="809.5" x2="193.5" y2="809.5" stroke="#333" stroke-width="1" stroke-linecap="butt"/>
<line x1="187.9" y1="829.5" x2="193.5" y2="829.5" stroke="#333" stroke-width="1" stroke-linecap="butt"/>
<line x1="219.5" y1="833.2" x2="219.5" y2="838.6" stroke="#444" stroke-width="1" stroke-linecap="butt"/>
<text x="219" y="852.5" font-size="8.4" text-anchor="middle">8</text>
<line x1="251.5" y1="833.2" x2="251.5" y2="838.6" stroke="#444" stroke-width="1" stroke-linecap="butt"/>
<text x="251.66" y="852.5" font-size="8.4" text-anchor="middle">10</text>
<line x1="284.5" y1="833.2" x2="284.5" y2="838.6" stroke="#444" stroke-width="1" stroke-linecap="butt"/>
<text x="284.32" y="852.5" font-size="8.4" text-anchor="middle">12</text>
<line x1="316.5" y1="833.2" x2="316.5" y2="838.6" stroke="#444" stroke-width="1" stroke-linecap="butt"/>
<text x="316.98" y="852.5" font-size="8.4" text-anchor="middle">14</text>
<text x="192.1" y="866.6" font-size="10.9">MAPK1</text>
<polyline points="232.9,862.5 330.2,862.5" fill="none" stroke="#222" stroke-width="0.9"/>
<polyline points="320.7,867.7 330.2,862.5 320.7,857.3" fill="none" stroke="#222" stroke-width="0.9" stroke-linejoin="miter"/>
<polyline points="358.5,736.2 358.5,239.7" fill="none" stroke="#222" stroke-width="0.9"/>
<polyline points="363.7,247.9 358.5,239.7 353.3,247.9" fill="none" stroke="#222" stroke-width="0.9" stroke-linejoin="miter"/>
<text x="363" y="853.6" font-size="10.7" transform="rotate(-90 363 853.6)">Component + residuals</text>
<rect x="390.5" y="240.5" width="126" height="66" fill="none" stroke="#222" stroke-width="1"/>
<line x1="383.8" y1="241.5" x2="390.5" y2="241.5" stroke="#444" stroke-width="1" stroke-linecap="butt"/>
<line x1="383.8" y1="252.5" x2="390.5" y2="252.5" stroke="#444" stroke-width="1" stroke-linecap="butt"/>
<line x1="383.8" y1="262.5" x2="390.5" y2="262.5" stroke="#444" stroke-width="1" stroke-linecap="butt"/>
<line x1="383.8" y1="273.5" x2="390.5" y2="273.5" stroke="#444" stroke-width="1" stroke-linecap="butt"/>
<line x1="383.8" y1="284.5" x2="390.5" y2="284.5" stroke="#444" stroke-width="1" stroke-linecap="butt"/>
<line x1="383.8" y1="295.5" x2="390.5" y2="295.5" stroke="#444" stroke-width="1" stroke-linecap="butt"/>
<line x1="383.8" y1="305.5" x2="390.5" y2="305.5" stroke="#444" stroke-width="1" stroke-linecap="butt"/>
<text x="375.6" y="252.17" font-size="12.3" text-anchor="middle" transform="rotate(-90 375.6 252.17)">5</text>
<text x="375.6" y="273.63" font-size="12.3" text-anchor="middle" transform="rotate(-90 375.6 273.63)">-5</text>
<text x="375.6" y="305.82" font-size="12.3" text-anchor="middle" transform="rotate(-90 375.6 305.82)">-20</text>
<line x1="424.5" y1="247.4" x2="424.5" y2="250.4" stroke="#222" stroke-width="0.9" stroke-linecap="butt" stroke-dasharray="3,2.6"/>
<line x1="424.5" y1="256.1" x2="424.5" y2="260.7" stroke="#222" stroke-width="0.9" stroke-linecap="butt" stroke-dasharray="3,2.6"/>
<line x1="412.7" y1="247.5" x2="437" y2="247.5" stroke="#222" stroke-width="0.9" stroke-linecap="butt"/>
<line x1="412.7" y1="260.5" x2="437" y2="260.5" stroke="#222" stroke-width="0.9" stroke-linecap="butt"/>
<rect x="401.5" y="250.5" width="47" height="6" fill="#fff" stroke="#222" stroke-width="0.9"/>
<line x1="401.2" y1="252.8" x2="448" y2="252.8" stroke="#000" stroke-width="3" stroke-linecap="butt"/>
<circle cx="424.5" cy="244" r="3.3" fill="none" stroke="#222" stroke-width="1"/>
<line x1="482.5" y1="297.7" x2="482.5" y2="299.5" stroke="#222" stroke-width="0.9" stroke-linecap="butt" stroke-dasharray="3,2.6"/>
<line x1="482.5" y1="303.6" x2="482.5" y2="304.9" stroke="#222" stroke-width="0.9" stroke-linecap="butt" stroke-dasharray="3,2.6"/>
<line x1="471.5" y1="297.5" x2="494.5" y2="297.5" stroke="#222" stroke-width="0.9" stroke-linecap="butt"/>
<line x1="471.5" y1="304.5" x2="494.5" y2="304.5" stroke="#222" stroke-width="0.9" stroke-linecap="butt"/>
<rect x="459.5" y="299.5" width="47" height="4" fill="#fff" stroke="#222" stroke-width="0.9"/>
<line x1="459.5" y1="301.8" x2="506.5" y2="301.8" stroke="#000" stroke-width="3.2" stroke-linecap="butt"/>
<line x1="424.5" y1="306.3" x2="424.5" y2="313.3" stroke="#444" stroke-width="1" stroke-linecap="butt"/>
<line x1="482.5" y1="306.3" x2="482.5" y2="313.3" stroke="#444" stroke-width="1" stroke-linecap="butt"/>
<text x="417.8" y="328" font-size="10.6" text-anchor="middle">No</text>
<text x="485.5" y="328" font-size="10.6" text-anchor="middle">Yes</text>
<text x="450.9" y="340.5" font-size="10.6" text-anchor="middle">HLA-<tspan font-style="italic">DR3/4</tspan></text>
<rect x="555.5" y="240.5" width="125" height="66" fill="none" stroke="#222" stroke-width="1"/>
<line x1="548.4" y1="246.5" x2="555.6" y2="246.5" stroke="#444" stroke-width="1" stroke-linecap="butt"/>
<line x1="548.4" y1="266.5" x2="555.6" y2="266.5" stroke="#444" stroke-width="1" stroke-linecap="butt"/>
<line x1="548.4" y1="285.5" x2="555.6" y2="285.5" stroke="#444" stroke-width="1" stroke-linecap="butt"/>
<line x1="548.4" y1="305.5" x2="555.6" y2="305.5" stroke="#444" stroke-width="1" stroke-linecap="butt"/>
<text x="539.5" y="246.4" font-size="12.3" text-anchor="middle" transform="rotate(-90 539.5 246.4)">5</text>
<text x="539.5" y="266.1" font-size="12.3" text-anchor="middle" transform="rotate(-90 539.5 266.1)">0</text>
<text x="539.5" y="305.5" font-size="12.3" text-anchor="middle" transform="rotate(-90 539.5 305.5)">-10</text>
<line x1="589.5" y1="288.5" x2="589.5" y2="293.1" stroke="#222" stroke-width="0.9" stroke-linecap="butt" stroke-dasharray="3,2.6"/>
<line x1="589.5" y1="301.5" x2="589.5" y2="304.2" stroke="#222" stroke-width="0.9" stroke-linecap="butt" stroke-dasharray="3,2.6"/>
<line x1="577.8" y1="288.5" x2="600.2" y2="288.5" stroke="#222" stroke-width="0.9" stroke-linecap="butt"/>
<line x1="577.8" y1="304.5" x2="600.2" y2="304.5" stroke="#222" stroke-width="0.9" stroke-linecap="butt"/>
<rect x="566.5" y="293.5" width="46" height="8" fill="#fff" stroke="#222" stroke-width="0.9"/>
<line x1="566.2" y1="298.3" x2="612.7" y2="298.3" stroke="#000" stroke-width="3.4" stroke-linecap="butt"/>
<line x1="646.5" y1="252.9" x2="646.5" y2="257" stroke="#222" stroke-width="0.9" stroke-linecap="butt" stroke-dasharray="3,2.6"/>
<line x1="646.5" y1="263" x2="646.5" y2="266.1" stroke="#222" stroke-width="0.9" stroke-linecap="butt" stroke-dasharray="3,2.6"/>
<line x1="635.1" y1="252.5" x2="658.5" y2="252.5" stroke="#222" stroke-width="0.9" stroke-linecap="butt"/>
<line x1="635.1" y1="266.5" x2="658.5" y2="266.5" stroke="#222" stroke-width="0.9" stroke-linecap="butt"/>
<rect x="623.5" y="257.5" width="46" height="6" fill="#fff" stroke="#222" stroke-width="0.9"/>
<line x1="623.1" y1="259.6" x2="669.8" y2="259.6" stroke="#000" stroke-width="3.4" stroke-linecap="butt"/>
<circle cx="646.4" cy="244" r="2.9" fill="none" stroke="#222" stroke-width="1.2"/>
<circle cx="646.4" cy="244.8" r="2.9" fill="none" stroke="#222" stroke-width="1.2"/>
<circle cx="646.4" cy="273.4" r="2.9" fill="none" stroke="#222" stroke-width="1.2"/>
<circle cx="646.4" cy="276.2" r="2.9" fill="none" stroke="#222" stroke-width="1.2"/>
<line x1="589.5" y1="306.3" x2="589.5" y2="313.1" stroke="#444" stroke-width="1" stroke-linecap="butt"/>
<line x1="646.5" y1="306.3" x2="646.5" y2="313.1" stroke="#444" stroke-width="1" stroke-linecap="butt"/>
<text x="585.6" y="327.5" font-size="10.6" text-anchor="middle">African American</text>
<text x="658.5" y="327.5" font-size="10.6" text-anchor="middle">Caucasian</text>
<text x="617" y="342" font-size="10.6" text-anchor="middle">Ethnicity</text>
<line x1="391.7" y1="369.5" x2="517.4" y2="369.5" stroke="#d6d6d6" stroke-width="1" stroke-linecap="butt"/>
<line x1="391.7" y1="387.5" x2="517.4" y2="387.5" stroke="#d6d6d6" stroke-width="1" stroke-linecap="butt"/>
<line x1="391.7" y1="405.5" x2="517.4" y2="405.5" stroke="#d6d6d6" stroke-width="1" stroke-linecap="butt"/>
<line x1="391.7" y1="423.5" x2="517.4" y2="423.5" stroke="#d6d6d6" stroke-width="1" stroke-linecap="butt"/>
<line x1="396.5" y1="358.5" x2="396.5" y2="424.7" stroke="#d6d6d6" stroke-width="1" stroke-linecap="butt"/>
<line x1="413.5" y1="358.5" x2="413.5" y2="424.7" stroke="#d6d6d6" stroke-width="1" stroke-linecap="butt"/>
<line x1="430.5" y1="358.5" x2="430.5" y2="424.7" stroke="#d6d6d6" stroke-width="1" stroke-linecap="butt"/>
<line x1="447.5" y1="358.5" x2="447.5" y2="424.7" stroke="#d6d6d6" stroke-width="1" stroke-linecap="butt"/>
<line x1="464.5" y1="358.5" x2="464.5" y2="424.7" stroke="#d6d6d6" stroke-width="1" stroke-linecap="butt"/>
<line x1="481.5" y1="358.5" x2="481.5" y2="424.7" stroke="#d6d6d6" stroke-width="1" stroke-linecap="butt"/>
<line x1="498.5" y1="358.5" x2="498.5" y2="424.7" stroke="#d6d6d6" stroke-width="1" stroke-linecap="butt"/>
<line x1="515.5" y1="358.5" x2="515.5" y2="424.7" stroke="#d6d6d6" stroke-width="1" stroke-linecap="butt"/>
<g>
<circle cx="396.2" cy="367.4" r="2.3" fill="none" stroke="#111" stroke-width="1.15"/>
<circle cx="403.7" cy="361.9" r="2.3" fill="none" stroke="#111" stroke-width="1.15"/>
<circle cx="404.1" cy="367.2" r="2.3" fill="none" stroke="#111" stroke-width="1.15"/>
<circle cx="403.7" cy="373.1" r="2.3" fill="none" stroke="#111" stroke-width="1.15"/>
<circle cx="410.2" cy="366.2" r="2.3" fill="none" stroke="#111" stroke-width="1.15"/>
<circle cx="410.6" cy="370.4" r="2.3" fill="none" stroke="#111" stroke-width="1.15"/>
<circle cx="410.2" cy="378.7" r="2.3" fill="none" stroke="#111" stroke-width="1.15"/>
<circle cx="418.5" cy="376.3" r="2.3" fill="none" stroke="#111" stroke-width="1.15"/>
<circle cx="443.7" cy="374.1" r="2.3" fill="none" stroke="#111" stroke-width="1.15"/>
<circle cx="441.2" cy="388.5" r="2.3" fill="none" stroke="#111" stroke-width="1.15"/>
<circle cx="451.4" cy="403.9" r="2.3" fill="none" stroke="#111" stroke-width="1.15"/>
<circle cx="456.9" cy="392.4" r="2.3" fill="none" stroke="#111" stroke-width="1.15"/>
<circle cx="457.9" cy="397.4" r="2.3" fill="none" stroke="#111" stroke-width="1.15"/>
<circle cx="462.5" cy="403.9" r="2.3" fill="none" stroke="#111" stroke-width="1.15"/>
<circle cx="472.3" cy="401.7" r="2.3" fill="none" stroke="#111" stroke-width="1.15"/>
<circle cx="484.5" cy="423" r="2.3" fill="none" stroke="#111" stroke-width="1.15"/>
<circle cx="498.9" cy="415.1" r="2.3" fill="none" stroke="#111" stroke-width="1.15"/>
<circle cx="512.1" cy="407.2" r="2.3" fill="none" stroke="#111" stroke-width="1.15"/>
<polyline points="391.9,362.9 517.4,424" fill="none" stroke="#ff1a1a" stroke-width="2" stroke-linecap="butt" stroke-linejoin="miter" stroke-dasharray="5.5,3.5"/>
<path d="M391.9,363.9 C394.03,364.88 400.27,367.73 404.7,369.8 C409.13,371.87 413.25,373.83 418.5,376.3 C423.75,378.77 431.93,382.3 436.2,384.6 C440.47,386.9 441.13,388.13 444.1,390.1 C447.07,392.07 450.38,394.43 454,396.4 C457.62,398.37 461.53,400.33 465.8,401.9 C470.07,403.47 474.67,404.42 479.6,405.8 C484.53,407.18 489.82,408.72 495.4,410.2 C500.98,411.68 510.15,413.95 513.1,414.7" fill="none" stroke="#10c010" stroke-width="2.2" stroke-linecap="round" stroke-linejoin="round"/>
</g>
<rect x="391.5" y="358.5" width="126" height="66" fill="none" stroke="#111" stroke-width="1.1"/>
<line x1="384.7" y1="369.5" x2="391.7" y2="369.5" stroke="#222" stroke-width="1.1" stroke-linecap="butt"/>
<line x1="384.7" y1="387.5" x2="391.7" y2="387.5" stroke="#222" stroke-width="1.1" stroke-linecap="butt"/>
<line x1="384.7" y1="405.5" x2="391.7" y2="405.5" stroke="#222" stroke-width="1.1" stroke-linecap="butt"/>
<line x1="384.7" y1="423.5" x2="391.7" y2="423.5" stroke="#222" stroke-width="1.1" stroke-linecap="butt"/>
<text x="376.4" y="369.6" font-size="12.3" text-anchor="middle" transform="rotate(-90 376.4 369.6)">5</text>
<text x="376.4" y="387.5" font-size="12.3" text-anchor="middle" transform="rotate(-90 376.4 387.5)">0</text>
<text x="376.4" y="423.3" font-size="12.3" text-anchor="middle" transform="rotate(-90 376.4 423.3)">-10</text>
<line x1="396.5" y1="424.7" x2="396.5" y2="431.1" stroke="#222" stroke-width="1.1" stroke-linecap="butt"/>
<line x1="413.5" y1="424.7" x2="413.5" y2="431.1" stroke="#222" stroke-width="1.1" stroke-linecap="butt"/>
<line x1="430.5" y1="424.7" x2="430.5" y2="431.1" stroke="#222" stroke-width="1.1" stroke-linecap="butt"/>
<line x1="447.5" y1="424.7" x2="447.5" y2="431.1" stroke="#222" stroke-width="1.1" stroke-linecap="butt"/>
<line x1="464.5" y1="424.7" x2="464.5" y2="431.1" stroke="#222" stroke-width="1.1" stroke-linecap="butt"/>
<line x1="481.5" y1="424.7" x2="481.5" y2="431.1" stroke="#222" stroke-width="1.1" stroke-linecap="butt"/>
<line x1="498.5" y1="424.7" x2="498.5" y2="431.1" stroke="#222" stroke-width="1.1" stroke-linecap="butt"/>
<line x1="515.5" y1="424.7" x2="515.5" y2="431.1" stroke="#222" stroke-width="1.1" stroke-linecap="butt"/>
<text x="396.4" y="451.5" font-size="11.6" text-anchor="middle">2.4</text>
<text x="430.32" y="451.5" font-size="11.6" text-anchor="middle">2.8</text>
<text x="464.24" y="451.5" font-size="11.6" text-anchor="middle">3.2</text>
<text x="498.16" y="451.5" font-size="11.6" text-anchor="middle">3.6</text>
<text x="376.2" y="465.9" font-size="10.9">Age</text>
<polyline points="403.8,460.5 514.9,460.5" fill="none" stroke="#222" stroke-width="0.9"/>
<polyline points="505.4,465.7 514.9,460.5 505.4,455.3" fill="none" stroke="#222" stroke-width="0.9" stroke-linejoin="miter"/>
<line x1="556.3" y1="363.5" x2="681.7" y2="363.5" stroke="#d6d6d6" stroke-width="1" stroke-linecap="butt"/>
<line x1="556.3" y1="373.5" x2="681.7" y2="373.5" stroke="#d6d6d6" stroke-width="1" stroke-linecap="butt"/>
<line x1="556.3" y1="384.5" x2="681.7" y2="384.5" stroke="#d6d6d6" stroke-width="1" stroke-linecap="butt"/>
<line x1="556.3" y1="394.5" x2="681.7" y2="394.5" stroke="#d6d6d6" stroke-width="1" stroke-linecap="butt"/>
<line x1="556.3" y1="404.5" x2="681.7" y2="404.5" stroke="#d6d6d6" stroke-width="1" stroke-linecap="butt"/>
<line x1="556.3" y1="414.5" x2="681.7" y2="414.5" stroke="#d6d6d6" stroke-width="1" stroke-linecap="butt"/>
<line x1="556.3" y1="424.5" x2="681.7" y2="424.5" stroke="#d6d6d6" stroke-width="1" stroke-linecap="butt"/>
<line x1="568.5" y1="359.3" x2="568.5" y2="425.3" stroke="#d6d6d6" stroke-width="1" stroke-linecap="butt"/>
<line x1="589.5" y1="359.3" x2="589.5" y2="425.3" stroke="#d6d6d6" stroke-width="1" stroke-linecap="butt"/>
<line x1="611.5" y1="359.3" x2="611.5" y2="425.3" stroke="#d6d6d6" stroke-width="1" stroke-linecap="butt"/>
<line x1="632.5" y1="359.3" x2="632.5" y2="425.3" stroke="#d6d6d6" stroke-width="1" stroke-linecap="butt"/>
<line x1="653.5" y1="359.3" x2="653.5" y2="425.3" stroke="#d6d6d6" stroke-width="1" stroke-linecap="butt"/>
<line x1="674.5" y1="359.3" x2="674.5" y2="425.3" stroke="#d6d6d6" stroke-width="1" stroke-linecap="butt"/>
<g>
<circle cx="560.8" cy="423" r="2.3" fill="none" stroke="#111" stroke-width="1.15"/>
<circle cx="591.8" cy="405.8" r="2.3" fill="none" stroke="#111" stroke-width="1.15"/>
<circle cx="612.1" cy="396" r="2.3" fill="none" stroke="#111" stroke-width="1.15"/>
<circle cx="616" cy="393.4" r="2.3" fill="none" stroke="#111" stroke-width="1.15"/>
<circle cx="618" cy="395.4" r="2.3" fill="none" stroke="#111" stroke-width="1.15"/>
<circle cx="620" cy="392.4" r="2.3" fill="none" stroke="#111" stroke-width="1.15"/>
<circle cx="632.4" cy="386.1" r="2.3" fill="none" stroke="#111" stroke-width="1.15"/>
<circle cx="637.7" cy="380.6" r="2.3" fill="none" stroke="#111" stroke-width="1.15"/>
<circle cx="639.7" cy="379" r="2.3" fill="none" stroke="#111" stroke-width="1.15"/>
<circle cx="639.7" cy="381.6" r="2.3" fill="none" stroke="#111" stroke-width="1.15"/>
<circle cx="646.6" cy="379" r="2.3" fill="none" stroke="#111" stroke-width="1.15"/>
<circle cx="648.5" cy="374.1" r="2.3" fill="none" stroke="#111" stroke-width="1.15"/>
<circle cx="655.8" cy="378.7" r="2.3" fill="none" stroke="#111" stroke-width="1.15"/>
<circle cx="661.4" cy="374.7" r="2.3" fill="none" stroke="#111" stroke-width="1.15"/>
<circle cx="672.2" cy="365.8" r="2.3" fill="none" stroke="#111" stroke-width="1.15"/>
<circle cx="674.6" cy="365.8" r="2.3" fill="none" stroke="#111" stroke-width="1.15"/>
<circle cx="679.1" cy="361.9" r="2.3" fill="none" stroke="#111" stroke-width="1.15"/>
<polyline points="556.3,425.4 681.7,359.3" fill="none" stroke="#ff1a1a" stroke-width="2" stroke-linecap="butt" stroke-linejoin="miter" stroke-dasharray="5.5,3.5"/>
<path d="M557.9,424 C563.25,421.13 579.65,412.22 590,406.8 C600.35,401.38 611.67,395.8 620,391.5 C628.33,387.2 633.33,384.17 640,381 C646.67,377.83 653.65,375.52 660,372.5 C666.35,369.48 675.08,364.5 678.1,362.9" fill="none" stroke="#10c010" stroke-width="2.2" stroke-linecap="round" stroke-linejoin="round"/>
</g>
<rect x="556.5" y="359.5" width="125" height="66" fill="none" stroke="#111" stroke-width="1.1"/>
<line x1="549.3" y1="363.5" x2="556.3" y2="363.5" stroke="#222" stroke-width="1.1" stroke-linecap="butt"/>
<line x1="549.3" y1="373.5" x2="556.3" y2="373.5" stroke="#222" stroke-width="1.1" stroke-linecap="butt"/>
<line x1="549.3" y1="384.5" x2="556.3" y2="384.5" stroke="#222" stroke-width="1.1" stroke-linecap="butt"/>
<line x1="549.3" y1="394.5" x2="556.3" y2="394.5" stroke="#222" stroke-width="1.1" stroke-linecap="butt"/>
<line x1="549.3" y1="404.5" x2="556.3" y2="404.5" stroke="#222" stroke-width="1.1" stroke-linecap="butt"/>
<line x1="549.3" y1="414.5" x2="556.3" y2="414.5" stroke="#222" stroke-width="1.1" stroke-linecap="butt"/>
<line x1="549.3" y1="424.5" x2="556.3" y2="424.5" stroke="#222" stroke-width="1.1" stroke-linecap="butt"/>
<text x="540.8" y="363.9" font-size="12.3" text-anchor="middle" transform="rotate(-90 540.8 363.9)">20</text>
<text x="540.8" y="394.05" font-size="12.3" text-anchor="middle" transform="rotate(-90 540.8 394.05)">-10</text>
<text x="540.8" y="424.2" font-size="12.3" text-anchor="middle" transform="rotate(-90 540.8 424.2)">-40</text>
<line x1="568.5" y1="425.3" x2="568.5" y2="431.7" stroke="#222" stroke-width="1.1" stroke-linecap="butt"/>
<line x1="589.5" y1="425.3" x2="589.5" y2="431.7" stroke="#222" stroke-width="1.1" stroke-linecap="butt"/>
<line x1="611.5" y1="425.3" x2="611.5" y2="431.7" stroke="#222" stroke-width="1.1" stroke-linecap="butt"/>
<line x1="632.5" y1="425.3" x2="632.5" y2="431.7" stroke="#222" stroke-width="1.1" stroke-linecap="butt"/>
<line x1="653.5" y1="425.3" x2="653.5" y2="431.7" stroke="#222" stroke-width="1.1" stroke-linecap="butt"/>
<line x1="674.5" y1="425.3" x2="674.5" y2="431.7" stroke="#222" stroke-width="1.1" stroke-linecap="butt"/>
<text x="568.4" y="451.4" font-size="11.6" text-anchor="middle">4.5</text>
<text x="611" y="451.4" font-size="11.6" text-anchor="middle">5.5</text>
<text x="653.6" y="451.4" font-size="11.6" text-anchor="middle">6.5</text>
<text x="537.8" y="464.7" font-size="10.9">HMGB1</text>
<polyline points="582,459.5 676.8,459.5" fill="none" stroke="#222" stroke-width="0.9"/>
<polyline points="667.3,464.7 676.8,459.5 667.3,454.3" fill="none" stroke="#222" stroke-width="0.9" stroke-linejoin="miter"/>
<line x1="394.3" y1="498.5" x2="520.1" y2="498.5" stroke="#d6d6d6" stroke-width="1" stroke-linecap="butt"/>
<line x1="394.3" y1="507.5" x2="520.1" y2="507.5" stroke="#d6d6d6" stroke-width="1" stroke-linecap="butt"/>
<line x1="394.3" y1="516.5" x2="520.1" y2="516.5" stroke="#d6d6d6" stroke-width="1" stroke-linecap="butt"/>
<line x1="394.3" y1="525.5" x2="520.1" y2="525.5" stroke="#d6d6d6" stroke-width="1" stroke-linecap="butt"/>
<line x1="394.3" y1="535.5" x2="520.1" y2="535.5" stroke="#d6d6d6" stroke-width="1" stroke-linecap="butt"/>
<line x1="394.3" y1="544.5" x2="520.1" y2="544.5" stroke="#d6d6d6" stroke-width="1" stroke-linecap="butt"/>
<line x1="394.3" y1="553.5" x2="520.1" y2="553.5" stroke="#d6d6d6" stroke-width="1" stroke-linecap="butt"/>
<line x1="411.5" y1="491.9" x2="411.5" y2="558" stroke="#d6d6d6" stroke-width="1" stroke-linecap="butt"/>
<line x1="439.5" y1="491.9" x2="439.5" y2="558" stroke="#d6d6d6" stroke-width="1" stroke-linecap="butt"/>
<line x1="467.5" y1="491.9" x2="467.5" y2="558" stroke="#d6d6d6" stroke-width="1" stroke-linecap="butt"/>
<line x1="495.5" y1="491.9" x2="495.5" y2="558" stroke="#d6d6d6" stroke-width="1" stroke-linecap="butt"/>
<g>
<circle cx="398.3" cy="555.6" r="2.3" fill="none" stroke="#111" stroke-width="1.15"/>
<circle cx="412.1" cy="553.6" r="2.3" fill="none" stroke="#111" stroke-width="1.15"/>
<circle cx="417.6" cy="546.7" r="2.3" fill="none" stroke="#111" stroke-width="1.15"/>
<circle cx="419.6" cy="545.7" r="2.3" fill="none" stroke="#111" stroke-width="1.15"/>
<circle cx="423.1" cy="544.8" r="2.3" fill="none" stroke="#111" stroke-width="1.15"/>
<circle cx="426.1" cy="541.2" r="2.3" fill="none" stroke="#111" stroke-width="1.15"/>
<circle cx="427.1" cy="540.8" r="2.3" fill="none" stroke="#111" stroke-width="1.15"/>
<circle cx="429.4" cy="542.6" r="2.3" fill="none" stroke="#111" stroke-width="1.15"/>
<circle cx="436.3" cy="534.9" r="2.3" fill="none" stroke="#111" stroke-width="1.15"/>
<circle cx="439.7" cy="539.6" r="2.3" fill="none" stroke="#111" stroke-width="1.15"/>
<circle cx="441.6" cy="530.4" r="2.3" fill="none" stroke="#111" stroke-width="1.15"/>
<circle cx="444.2" cy="529.4" r="2.3" fill="none" stroke="#111" stroke-width="1.15"/>
<circle cx="446.6" cy="534.5" r="2.3" fill="none" stroke="#111" stroke-width="1.15"/>
<circle cx="447.5" cy="531" r="2.3" fill="none" stroke="#111" stroke-width="1.15"/>
<circle cx="453.1" cy="529.4" r="2.3" fill="none" stroke="#111" stroke-width="1.15"/>
<circle cx="496.4" cy="505.3" r="2.3" fill="none" stroke="#111" stroke-width="1.15"/>
<circle cx="514.6" cy="495.5" r="2.3" fill="none" stroke="#111" stroke-width="1.15"/>
<circle cx="442.8" cy="532.3" r="2.3" fill="none" stroke="#111" stroke-width="1.15"/>
<polyline points="394.3,558.4 520.1,492.9" fill="none" stroke="#ff1a1a" stroke-width="2" stroke-linecap="butt" stroke-linejoin="miter" stroke-dasharray="5.5,3.5"/>
<path d="M396.9,556.6 C400.75,554.58 412.82,548.27 420,544.5 C427.18,540.73 431.67,538.33 440,534 C448.33,529.67 460,523.67 470,518.5 C480,513.33 491.98,507 500,503 C508.02,499 515.08,495.92 518.1,494.5" fill="none" stroke="#10c010" stroke-width="2.2" stroke-linecap="round" stroke-linejoin="round"/>
</g>
<rect x="394.5" y="491.5" width="126" height="67" fill="none" stroke="#111" stroke-width="1.1"/>
<line x1="387.3" y1="498.5" x2="394.3" y2="498.5" stroke="#222" stroke-width="1.1" stroke-linecap="butt"/>
<line x1="387.3" y1="507.5" x2="394.3" y2="507.5" stroke="#222" stroke-width="1.1" stroke-linecap="butt"/>
<line x1="387.3" y1="516.5" x2="394.3" y2="516.5" stroke="#222" stroke-width="1.1" stroke-linecap="butt"/>
<line x1="387.3" y1="525.5" x2="394.3" y2="525.5" stroke="#222" stroke-width="1.1" stroke-linecap="butt"/>
<line x1="387.3" y1="535.5" x2="394.3" y2="535.5" stroke="#222" stroke-width="1.1" stroke-linecap="butt"/>
<line x1="387.3" y1="544.5" x2="394.3" y2="544.5" stroke="#222" stroke-width="1.1" stroke-linecap="butt"/>
<line x1="387.3" y1="553.5" x2="394.3" y2="553.5" stroke="#222" stroke-width="1.1" stroke-linecap="butt"/>
<text x="378.9" y="498.28" font-size="12.3" text-anchor="middle" transform="rotate(-90 378.9 498.28)">40</text>
<text x="378.9" y="525.97" font-size="12.3" text-anchor="middle" transform="rotate(-90 378.9 525.97)">10</text>
<text x="378.9" y="553.66" font-size="12.3" text-anchor="middle" transform="rotate(-90 378.9 553.66)">-20</text>
<line x1="411.5" y1="558" x2="411.5" y2="564.4" stroke="#222" stroke-width="1.1" stroke-linecap="butt"/>
<line x1="439.5" y1="558" x2="439.5" y2="564.4" stroke="#222" stroke-width="1.1" stroke-linecap="butt"/>
<line x1="467.5" y1="558" x2="467.5" y2="564.4" stroke="#222" stroke-width="1.1" stroke-linecap="butt"/>
<line x1="495.5" y1="558" x2="495.5" y2="564.4" stroke="#222" stroke-width="1.1" stroke-linecap="butt"/>
<text x="411.4" y="582.5" font-size="11.6" text-anchor="middle">7</text>
<text x="439.5" y="582.5" font-size="11.6" text-anchor="middle">8</text>
<text x="467.6" y="582.5" font-size="11.6" text-anchor="middle">9</text>
<text x="495.7" y="582.5" font-size="11.6" text-anchor="middle">10</text>
<text x="382.5" y="600" font-size="10.9">AKR1B1</text>
<polyline points="429.3,594.5 513.6,594.5" fill="none" stroke="#222" stroke-width="0.9"/>
<polyline points="504.1,599.7 513.6,594.5 504.1,589.3" fill="none" stroke="#222" stroke-width="0.9" stroke-linejoin="miter"/>
<line x1="556.7" y1="496.5" x2="681.3" y2="496.5" stroke="#d6d6d6" stroke-width="1" stroke-linecap="butt"/>
<line x1="556.7" y1="505.5" x2="681.3" y2="505.5" stroke="#d6d6d6" stroke-width="1" stroke-linecap="butt"/>
<line x1="556.7" y1="514.5" x2="681.3" y2="514.5" stroke="#d6d6d6" stroke-width="1" stroke-linecap="butt"/>
<line x1="556.7" y1="524.5" x2="681.3" y2="524.5" stroke="#d6d6d6" stroke-width="1" stroke-linecap="butt"/>
<line x1="556.7" y1="533.5" x2="681.3" y2="533.5" stroke="#d6d6d6" stroke-width="1" stroke-linecap="butt"/>
<line x1="556.7" y1="543.5" x2="681.3" y2="543.5" stroke="#d6d6d6" stroke-width="1" stroke-linecap="butt"/>
<line x1="556.7" y1="552.5" x2="681.3" y2="552.5" stroke="#d6d6d6" stroke-width="1" stroke-linecap="butt"/>
<line x1="558.5" y1="490.7" x2="558.5" y2="555.7" stroke="#d6d6d6" stroke-width="1" stroke-linecap="butt"/>
<line x1="580.5" y1="490.7" x2="580.5" y2="555.7" stroke="#d6d6d6" stroke-width="1" stroke-linecap="butt"/>
<line x1="603.5" y1="490.7" x2="603.5" y2="555.7" stroke="#d6d6d6" stroke-width="1" stroke-linecap="butt"/>
<line x1="625.5" y1="490.7" x2="625.5" y2="555.7" stroke="#d6d6d6" stroke-width="1" stroke-linecap="butt"/>
<line x1="647.5" y1="490.7" x2="647.5" y2="555.7" stroke="#d6d6d6" stroke-width="1" stroke-linecap="butt"/>
<line x1="670.5" y1="490.7" x2="670.5" y2="555.7" stroke="#d6d6d6" stroke-width="1" stroke-linecap="butt"/>
<g>
<circle cx="560.4" cy="493.7" r="2.3" fill="none" stroke="#111" stroke-width="1.15"/>
<circle cx="569.1" cy="496.1" r="2.3" fill="none" stroke="#111" stroke-width="1.15"/>
<circle cx="574.6" cy="501.6" r="2.3" fill="none" stroke="#111" stroke-width="1.15"/>
<circle cx="605.6" cy="513" r="2.3" fill="none" stroke="#111" stroke-width="1.15"/>
<circle cx="610.1" cy="514.7" r="2.3" fill="none" stroke="#111" stroke-width="1.15"/>
<circle cx="611.8" cy="519" r="2.3" fill="none" stroke="#111" stroke-width="1.15"/>
<circle cx="617.5" cy="522.2" r="2.3" fill="none" stroke="#111" stroke-width="1.15"/>
<circle cx="629.7" cy="528.4" r="2.3" fill="none" stroke="#111" stroke-width="1.15"/>
<circle cx="629.7" cy="532.9" r="2.3" fill="none" stroke="#111" stroke-width="1.15"/>
<circle cx="632.2" cy="530.4" r="2.3" fill="none" stroke="#111" stroke-width="1.15"/>
<circle cx="634.9" cy="533.4" r="2.3" fill="none" stroke="#111" stroke-width="1.15"/>
<circle cx="636.1" cy="530.9" r="2.3" fill="none" stroke="#111" stroke-width="1.15"/>
<circle cx="638.6" cy="535.1" r="2.3" fill="none" stroke="#111" stroke-width="1.15"/>
<circle cx="649.5" cy="536.6" r="2.3" fill="none" stroke="#111" stroke-width="1.15"/>
<circle cx="677.6" cy="554" r="2.3" fill="none" stroke="#111" stroke-width="1.15"/>
<polyline points="556.7,490.7 681.3,555.7" fill="none" stroke="#ff1a1a" stroke-width="2" stroke-linecap="butt" stroke-linejoin="miter" stroke-dasharray="5.5,3.5"/>
<path d="M558.4,491.9 C561.92,493.72 572.67,499.62 579.5,502.8 C586.33,505.98 594.02,508.6 599.4,511 C604.78,513.4 608.08,514.92 611.8,517.2 C615.52,519.48 618.38,522.42 621.7,524.7 C625.02,526.98 627.97,529.17 631.7,530.9 C635.43,532.63 639.55,533.03 644.1,535.1 C648.65,537.17 653.42,540.28 659,543.3 C664.58,546.32 674.5,551.55 677.6,553.2" fill="none" stroke="#10c010" stroke-width="2.2" stroke-linecap="round" stroke-linejoin="round"/>
</g>
<rect x="556.5" y="490.5" width="125" height="65" fill="none" stroke="#111" stroke-width="1.1"/>
<line x1="549.7" y1="496.5" x2="556.7" y2="496.5" stroke="#222" stroke-width="1.1" stroke-linecap="butt"/>
<line x1="549.7" y1="505.5" x2="556.7" y2="505.5" stroke="#222" stroke-width="1.1" stroke-linecap="butt"/>
<line x1="549.7" y1="514.5" x2="556.7" y2="514.5" stroke="#222" stroke-width="1.1" stroke-linecap="butt"/>
<line x1="549.7" y1="524.5" x2="556.7" y2="524.5" stroke="#222" stroke-width="1.1" stroke-linecap="butt"/>
<line x1="549.7" y1="533.5" x2="556.7" y2="533.5" stroke="#222" stroke-width="1.1" stroke-linecap="butt"/>
<line x1="549.7" y1="543.5" x2="556.7" y2="543.5" stroke="#222" stroke-width="1.1" stroke-linecap="butt"/>
<line x1="549.7" y1="552.5" x2="556.7" y2="552.5" stroke="#222" stroke-width="1.1" stroke-linecap="butt"/>
<text x="541" y="496" font-size="12.3" text-anchor="middle" transform="rotate(-90 541 496)">30</text>
<text x="541" y="524.2" font-size="12.3" text-anchor="middle" transform="rotate(-90 541 524.2)">0</text>
<text x="541" y="552.4" font-size="12.3" text-anchor="middle" transform="rotate(-90 541 552.4)">-30</text>
<line x1="558.5" y1="555.7" x2="558.5" y2="562.1" stroke="#222" stroke-width="1.1" stroke-linecap="butt"/>
<line x1="580.5" y1="555.7" x2="580.5" y2="562.1" stroke="#222" stroke-width="1.1" stroke-linecap="butt"/>
<line x1="603.5" y1="555.7" x2="603.5" y2="562.1" stroke="#222" stroke-width="1.1" stroke-linecap="butt"/>
<line x1="625.5" y1="555.7" x2="625.5" y2="562.1" stroke="#222" stroke-width="1.1" stroke-linecap="butt"/>
<line x1="647.5" y1="555.7" x2="647.5" y2="562.1" stroke="#222" stroke-width="1.1" stroke-linecap="butt"/>
<line x1="670.5" y1="555.7" x2="670.5" y2="562.1" stroke="#222" stroke-width="1.1" stroke-linecap="butt"/>
<text x="558.4" y="581.7" font-size="11.6" text-anchor="middle">5.0</text>
<text x="603.1" y="581.7" font-size="11.6" text-anchor="middle">6.0</text>
<text x="647.8" y="581.7" font-size="11.6" text-anchor="middle">7.0</text>
<text x="541" y="599.2" font-size="10.9">FN3K</text>
<polyline points="573.3,594.5 680,594.5" fill="none" stroke="#222" stroke-width="0.9"/>
<polyline points="670.5,599.7 680,594.5 670.5,589.3" fill="none" stroke="#222" stroke-width="0.9" stroke-linejoin="miter"/>
<line x1="392.3" y1="627.5" x2="518.7" y2="627.5" stroke="#d6d6d6" stroke-width="1" stroke-linecap="butt"/>
<line x1="392.3" y1="640.5" x2="518.7" y2="640.5" stroke="#d6d6d6" stroke-width="1" stroke-linecap="butt"/>
<line x1="392.3" y1="654.5" x2="518.7" y2="654.5" stroke="#d6d6d6" stroke-width="1" stroke-linecap="butt"/>
<line x1="392.3" y1="667.5" x2="518.7" y2="667.5" stroke="#d6d6d6" stroke-width="1" stroke-linecap="butt"/>
<line x1="392.3" y1="681.5" x2="518.7" y2="681.5" stroke="#d6d6d6" stroke-width="1" stroke-linecap="butt"/>
<line x1="413.5" y1="623.5" x2="413.5" y2="689.7" stroke="#d6d6d6" stroke-width="1" stroke-linecap="butt"/>
<line x1="438.5" y1="623.5" x2="438.5" y2="689.7" stroke="#d6d6d6" stroke-width="1" stroke-linecap="butt"/>
<line x1="463.5" y1="623.5" x2="463.5" y2="689.7" stroke="#d6d6d6" stroke-width="1" stroke-linecap="butt"/>
<line x1="488.5" y1="623.5" x2="488.5" y2="689.7" stroke="#d6d6d6" stroke-width="1" stroke-linecap="butt"/>
<line x1="514.5" y1="623.5" x2="514.5" y2="689.7" stroke="#d6d6d6" stroke-width="1" stroke-linecap="butt"/>
<g>
<circle cx="397.9" cy="626.6" r="2.3" fill="none" stroke="#111" stroke-width="1.15"/>
<circle cx="410.9" cy="634.8" r="2.3" fill="none" stroke="#111" stroke-width="1.15"/>
<circle cx="417.3" cy="635.5" r="2.3" fill="none" stroke="#111" stroke-width="1.15"/>
<circle cx="421.1" cy="639.4" r="2.3" fill="none" stroke="#111" stroke-width="1.15"/>
<circle cx="429.3" cy="642.4" r="2.3" fill="none" stroke="#111" stroke-width="1.15"/>
<circle cx="432.6" cy="645" r="2.3" fill="none" stroke="#111" stroke-width="1.15"/>
<circle cx="438.3" cy="644" r="2.3" fill="none" stroke="#111" stroke-width="1.15"/>
<circle cx="441.3" cy="652.9" r="2.3" fill="none" stroke="#111" stroke-width="1.15"/>
<circle cx="446.7" cy="653.4" r="2.3" fill="none" stroke="#111" stroke-width="1.15"/>
<circle cx="457.9" cy="651.6" r="2.3" fill="none" stroke="#111" stroke-width="1.15"/>
<circle cx="459.2" cy="661.1" r="2.3" fill="none" stroke="#111" stroke-width="1.15"/>
<circle cx="466.6" cy="656.8" r="2.3" fill="none" stroke="#111" stroke-width="1.15"/>
<circle cx="466.9" cy="667.5" r="2.3" fill="none" stroke="#111" stroke-width="1.15"/>
<circle cx="471.5" cy="664.9" r="2.3" fill="none" stroke="#111" stroke-width="1.15"/>
<circle cx="485" cy="671.3" r="2.3" fill="none" stroke="#111" stroke-width="1.15"/>
<circle cx="488.1" cy="670.8" r="2.3" fill="none" stroke="#111" stroke-width="1.15"/>
<circle cx="514.1" cy="686.6" r="2.3" fill="none" stroke="#111" stroke-width="1.15"/>
<circle cx="399" cy="628.5" r="2.3" fill="none" stroke="#111" stroke-width="1.15"/>
<polyline points="392.3,624.6 518.7,689.2" fill="none" stroke="#ff1a1a" stroke-width="2" stroke-linecap="butt" stroke-linejoin="miter" stroke-dasharray="5.5,3.5"/>
<path d="M393.5,625.8 C397.92,627.92 410.58,633.8 420,638.5 C429.42,643.2 440,648.83 450,654 C460,659.17 469.18,664.07 480,669.5 C490.82,674.93 509.08,683.75 514.9,686.6" fill="none" stroke="#10c010" stroke-width="2.2" stroke-linecap="round" stroke-linejoin="round"/>
</g>
<rect x="392.5" y="623.5" width="126" height="66" fill="none" stroke="#111" stroke-width="1.1"/>
<line x1="385.3" y1="627.5" x2="392.3" y2="627.5" stroke="#222" stroke-width="1.1" stroke-linecap="butt"/>
<line x1="385.3" y1="640.5" x2="392.3" y2="640.5" stroke="#222" stroke-width="1.1" stroke-linecap="butt"/>
<line x1="385.3" y1="654.5" x2="392.3" y2="654.5" stroke="#222" stroke-width="1.1" stroke-linecap="butt"/>
<line x1="385.3" y1="667.5" x2="392.3" y2="667.5" stroke="#222" stroke-width="1.1" stroke-linecap="butt"/>
<line x1="385.3" y1="681.5" x2="392.3" y2="681.5" stroke="#222" stroke-width="1.1" stroke-linecap="butt"/>
<text x="376.9" y="627.2" font-size="12.3" text-anchor="middle" transform="rotate(-90 376.9 627.2)">20</text>
<text x="376.9" y="654.2" font-size="12.3" text-anchor="middle" transform="rotate(-90 376.9 654.2)">0</text>
<text x="376.9" y="681.2" font-size="12.3" text-anchor="middle" transform="rotate(-90 376.9 681.2)">-20</text>
<line x1="413.5" y1="689.7" x2="413.5" y2="696.1" stroke="#222" stroke-width="1.1" stroke-linecap="butt"/>
<line x1="438.5" y1="689.7" x2="438.5" y2="696.1" stroke="#222" stroke-width="1.1" stroke-linecap="butt"/>
<line x1="463.5" y1="689.7" x2="463.5" y2="696.1" stroke="#222" stroke-width="1.1" stroke-linecap="butt"/>
<line x1="488.5" y1="689.7" x2="488.5" y2="696.1" stroke="#222" stroke-width="1.1" stroke-linecap="butt"/>
<line x1="514.5" y1="689.7" x2="514.5" y2="696.1" stroke="#222" stroke-width="1.1" stroke-linecap="butt"/>
<text x="413.5" y="715.1" font-size="11.6" text-anchor="middle">6</text>
<text x="438.65" y="715.1" font-size="11.6" text-anchor="middle">7</text>
<text x="463.8" y="715.1" font-size="11.6" text-anchor="middle">8</text>
<text x="488.95" y="715.1" font-size="11.6" text-anchor="middle">9</text>
<text x="514.1" y="715.1" font-size="11.6" text-anchor="middle">10</text>
<text x="383.8" y="728.8" font-size="10.9">RELA</text>
<polyline points="419.1,723.5 513.6,723.5" fill="none" stroke="#222" stroke-width="0.9"/>
<polyline points="504.1,728.7 513.6,723.5 504.1,718.3" fill="none" stroke="#222" stroke-width="0.9" stroke-linejoin="miter"/>
<line x1="555.2" y1="626.5" x2="680.8" y2="626.5" stroke="#d6d6d6" stroke-width="1" stroke-linecap="butt"/>
<line x1="555.2" y1="635.5" x2="680.8" y2="635.5" stroke="#d6d6d6" stroke-width="1" stroke-linecap="butt"/>
<line x1="555.2" y1="644.5" x2="680.8" y2="644.5" stroke="#d6d6d6" stroke-width="1" stroke-linecap="butt"/>
<line x1="555.2" y1="653.5" x2="680.8" y2="653.5" stroke="#d6d6d6" stroke-width="1" stroke-linecap="butt"/>
<line x1="555.2" y1="662.5" x2="680.8" y2="662.5" stroke="#d6d6d6" stroke-width="1" stroke-linecap="butt"/>
<line x1="555.2" y1="671.5" x2="680.8" y2="671.5" stroke="#d6d6d6" stroke-width="1" stroke-linecap="butt"/>
<line x1="555.2" y1="679.5" x2="680.8" y2="679.5" stroke="#d6d6d6" stroke-width="1" stroke-linecap="butt"/>
<line x1="555.2" y1="688.5" x2="680.8" y2="688.5" stroke="#d6d6d6" stroke-width="1" stroke-linecap="butt"/>
<line x1="559.5" y1="623.7" x2="559.5" y2="689.4" stroke="#d6d6d6" stroke-width="1" stroke-linecap="butt"/>
<line x1="600.5" y1="623.7" x2="600.5" y2="689.4" stroke="#d6d6d6" stroke-width="1" stroke-linecap="butt"/>
<line x1="641.5" y1="623.7" x2="641.5" y2="689.4" stroke="#d6d6d6" stroke-width="1" stroke-linecap="butt"/>
<g>
<circle cx="559.2" cy="686.9" r="2.3" fill="none" stroke="#111" stroke-width="1.15"/>
<circle cx="572.1" cy="684" r="2.3" fill="none" stroke="#111" stroke-width="1.15"/>
<circle cx="594.9" cy="671.3" r="2.3" fill="none" stroke="#111" stroke-width="1.15"/>
<circle cx="613.8" cy="663.4" r="2.3" fill="none" stroke="#111" stroke-width="1.15"/>
<circle cx="623.5" cy="651.4" r="2.3" fill="none" stroke="#111" stroke-width="1.15"/>
<circle cx="627.2" cy="655.9" r="2.3" fill="none" stroke="#111" stroke-width="1.15"/>
<circle cx="634.1" cy="653.4" r="2.3" fill="none" stroke="#111" stroke-width="1.15"/>
<circle cx="638.4" cy="653.9" r="2.3" fill="none" stroke="#111" stroke-width="1.15"/>
<circle cx="640.3" cy="647.2" r="2.3" fill="none" stroke="#111" stroke-width="1.15"/>
<circle cx="644.1" cy="646" r="2.3" fill="none" stroke="#111" stroke-width="1.15"/>
<circle cx="646.5" cy="654.7" r="2.3" fill="none" stroke="#111" stroke-width="1.15"/>
<circle cx="648.3" cy="646" r="2.3" fill="none" stroke="#111" stroke-width="1.15"/>
<circle cx="651" cy="649" r="2.3" fill="none" stroke="#111" stroke-width="1.15"/>
<circle cx="655.7" cy="650.2" r="2.3" fill="none" stroke="#111" stroke-width="1.15"/>
<circle cx="665.2" cy="638" r="2.3" fill="none" stroke="#111" stroke-width="1.15"/>
<circle cx="670.9" cy="637.3" r="2.3" fill="none" stroke="#111" stroke-width="1.15"/>
<circle cx="675.6" cy="627.4" r="2.3" fill="none" stroke="#111" stroke-width="1.15"/>
<polyline points="555.2,689.9 680.8,631.1" fill="none" stroke="#ff1a1a" stroke-width="2" stroke-linecap="butt" stroke-linejoin="miter" stroke-dasharray="5.5,3.5"/>
<path d="M557.9,688.9 C560.2,687.87 565.47,685.72 571.7,682.7 C577.93,679.68 589.07,673.77 595.3,670.8 C601.53,667.83 604.82,666.87 609.1,664.9 C613.38,662.93 617.05,660.9 621,659 C624.95,657.1 628.87,655.13 632.8,653.5 C636.73,651.87 640.98,650.68 644.6,649.2 C648.22,647.72 650.88,646.35 654.5,644.6 C658.12,642.85 662.87,641 666.3,638.7 C669.73,636.4 673.63,632.12 675.1,630.8" fill="none" stroke="#10c010" stroke-width="2.2" stroke-linecap="round" stroke-linejoin="round"/>
</g>
<rect x="555.5" y="623.5" width="125" height="66" fill="none" stroke="#111" stroke-width="1.1"/>
<line x1="548.2" y1="626.5" x2="555.2" y2="626.5" stroke="#222" stroke-width="1.1" stroke-linecap="butt"/>
<line x1="548.2" y1="635.5" x2="555.2" y2="635.5" stroke="#222" stroke-width="1.1" stroke-linecap="butt"/>
<line x1="548.2" y1="644.5" x2="555.2" y2="644.5" stroke="#222" stroke-width="1.1" stroke-linecap="butt"/>
<line x1="548.2" y1="653.5" x2="555.2" y2="653.5" stroke="#222" stroke-width="1.1" stroke-linecap="butt"/>
<line x1="548.2" y1="662.5" x2="555.2" y2="662.5" stroke="#222" stroke-width="1.1" stroke-linecap="butt"/>
<line x1="548.2" y1="671.5" x2="555.2" y2="671.5" stroke="#222" stroke-width="1.1" stroke-linecap="butt"/>
<line x1="548.2" y1="679.5" x2="555.2" y2="679.5" stroke="#222" stroke-width="1.1" stroke-linecap="butt"/>
<line x1="548.2" y1="688.5" x2="555.2" y2="688.5" stroke="#222" stroke-width="1.1" stroke-linecap="butt"/>
<text x="540.6" y="644.3" font-size="12.3" text-anchor="middle" transform="rotate(-90 540.6 644.3)">5</text>
<text x="540.6" y="662.1" font-size="12.3" text-anchor="middle" transform="rotate(-90 540.6 662.1)">-5</text>
<text x="540.6" y="688.8" font-size="12.3" text-anchor="middle" transform="rotate(-90 540.6 688.8)">-20</text>
<line x1="559.5" y1="689.4" x2="559.5" y2="695.8" stroke="#222" stroke-width="1.1" stroke-linecap="butt"/>
<line x1="600.5" y1="689.4" x2="600.5" y2="695.8" stroke="#222" stroke-width="1.1" stroke-linecap="butt"/>
<line x1="641.5" y1="689.4" x2="641.5" y2="695.8" stroke="#222" stroke-width="1.1" stroke-linecap="butt"/>
<text x="559.7" y="714.7" font-size="11.6" text-anchor="middle">10</text>
<text x="600.4" y="714.7" font-size="11.6" text-anchor="middle">15</text>
<text x="641.1" y="714.7" font-size="11.6" text-anchor="middle">20</text>
<text x="539.8" y="729.2" font-size="10.9">JAK1</text>
<polyline points="571.6,723.5 679.3,723.5" fill="none" stroke="#222" stroke-width="0.9"/>
<polyline points="669.8,728.7 679.3,723.5 669.8,718.3" fill="none" stroke="#222" stroke-width="0.9" stroke-linejoin="miter"/>
<line x1="393.5" y1="763.5" x2="519.5" y2="763.5" stroke="#d6d6d6" stroke-width="1" stroke-linecap="butt"/>
<line x1="393.5" y1="773.5" x2="519.5" y2="773.5" stroke="#d6d6d6" stroke-width="1" stroke-linecap="butt"/>
<line x1="393.5" y1="782.5" x2="519.5" y2="782.5" stroke="#d6d6d6" stroke-width="1" stroke-linecap="butt"/>
<line x1="393.5" y1="792.5" x2="519.5" y2="792.5" stroke="#d6d6d6" stroke-width="1" stroke-linecap="butt"/>
<line x1="393.5" y1="802.5" x2="519.5" y2="802.5" stroke="#d6d6d6" stroke-width="1" stroke-linecap="butt"/>
<line x1="393.5" y1="811.5" x2="519.5" y2="811.5" stroke="#d6d6d6" stroke-width="1" stroke-linecap="butt"/>
<line x1="393.5" y1="821.5" x2="519.5" y2="821.5" stroke="#d6d6d6" stroke-width="1" stroke-linecap="butt"/>
<line x1="404.5" y1="756.1" x2="404.5" y2="821.7" stroke="#d6d6d6" stroke-width="1" stroke-linecap="butt"/>
<line x1="423.5" y1="756.1" x2="423.5" y2="821.7" stroke="#d6d6d6" stroke-width="1" stroke-linecap="butt"/>
<line x1="442.5" y1="756.1" x2="442.5" y2="821.7" stroke="#d6d6d6" stroke-width="1" stroke-linecap="butt"/>
<line x1="461.5" y1="756.1" x2="461.5" y2="821.7" stroke="#d6d6d6" stroke-width="1" stroke-linecap="butt"/>
<line x1="480.5" y1="756.1" x2="480.5" y2="821.7" stroke="#d6d6d6" stroke-width="1" stroke-linecap="butt"/>
<line x1="499.5" y1="756.1" x2="499.5" y2="821.7" stroke="#d6d6d6" stroke-width="1" stroke-linecap="butt"/>
<line x1="518.5" y1="756.1" x2="518.5" y2="821.7" stroke="#d6d6d6" stroke-width="1" stroke-linecap="butt"/>
<g>
<circle cx="397.9" cy="820" r="2.3" fill="none" stroke="#111" stroke-width="1.15"/>
<circle cx="418.3" cy="818.7" r="2.3" fill="none" stroke="#111" stroke-width="1.15"/>
<circle cx="448.5" cy="800" r="2.3" fill="none" stroke="#111" stroke-width="1.15"/>
<circle cx="455.4" cy="802.1" r="2.3" fill="none" stroke="#111" stroke-width="1.15"/>
<circle cx="461.2" cy="798.3" r="2.3" fill="none" stroke="#111" stroke-width="1.15"/>
<circle cx="463" cy="777" r="2.3" fill="none" stroke="#111" stroke-width="1.15"/>
<circle cx="464.3" cy="796.7" r="2.3" fill="none" stroke="#111" stroke-width="1.15"/>
<circle cx="473.3" cy="801.3" r="2.3" fill="none" stroke="#111" stroke-width="1.15"/>
<circle cx="476.6" cy="791.1" r="2.3" fill="none" stroke="#111" stroke-width="1.15"/>
<circle cx="486" cy="788.5" r="2.3" fill="none" stroke="#111" stroke-width="1.15"/>
<circle cx="487.3" cy="804.4" r="2.3" fill="none" stroke="#111" stroke-width="1.15"/>
<circle cx="489.9" cy="777" r="2.3" fill="none" stroke="#111" stroke-width="1.15"/>
<circle cx="494" cy="782.2" r="2.3" fill="none" stroke="#111" stroke-width="1.15"/>
<circle cx="496.3" cy="775.8" r="2.3" fill="none" stroke="#111" stroke-width="1.15"/>
<circle cx="496.3" cy="792.4" r="2.3" fill="none" stroke="#111" stroke-width="1.15"/>
<circle cx="501.6" cy="801.3" r="2.3" fill="none" stroke="#111" stroke-width="1.15"/>
<circle cx="505.2" cy="783.4" r="2.3" fill="none" stroke="#111" stroke-width="1.15"/>
<circle cx="514.9" cy="759.2" r="2.3" fill="none" stroke="#111" stroke-width="1.15"/>
<polyline points="393.5,822.3 519.5,776" fill="none" stroke="#ff1a1a" stroke-width="2" stroke-linecap="butt" stroke-linejoin="miter" stroke-dasharray="5.5,3.5"/>
<path d="M397.9,821.9 C399.05,821.58 401.85,821.32 404.8,820 C407.75,818.68 411.5,815.98 415.6,814 C419.7,812.02 425.45,809.57 429.4,808.1 C433.35,806.63 436.02,806.42 439.3,805.2 C442.58,803.98 445.48,802.12 449.1,800.8 C452.72,799.48 457.05,798.47 461,797.3 C464.95,796.13 469.2,794.95 472.8,793.8 C476.4,792.65 479.98,791.4 482.6,790.4 C485.22,789.4 486.2,789.12 488.5,787.8 C490.8,786.48 493.43,784.6 496.4,782.5 C499.37,780.4 503.18,777.6 506.3,775.2 C509.42,772.8 513.63,769.28 515.1,768.1" fill="none" stroke="#10c010" stroke-width="2.2" stroke-linecap="round" stroke-linejoin="round"/>
</g>
<rect x="393.5" y="756.5" width="126" height="65" fill="none" stroke="#111" stroke-width="1.1"/>
<line x1="386.5" y1="763.5" x2="393.5" y2="763.5" stroke="#222" stroke-width="1.1" stroke-linecap="butt"/>
<line x1="386.5" y1="773.5" x2="393.5" y2="773.5" stroke="#222" stroke-width="1.1" stroke-linecap="butt"/>
<line x1="386.5" y1="782.5" x2="393.5" y2="782.5" stroke="#222" stroke-width="1.1" stroke-linecap="butt"/>
<line x1="386.5" y1="792.5" x2="393.5" y2="792.5" stroke="#222" stroke-width="1.1" stroke-linecap="butt"/>
<line x1="386.5" y1="802.5" x2="393.5" y2="802.5" stroke="#222" stroke-width="1.1" stroke-linecap="butt"/>
<line x1="386.5" y1="811.5" x2="393.5" y2="811.5" stroke="#222" stroke-width="1.1" stroke-linecap="butt"/>
<line x1="386.5" y1="821.5" x2="393.5" y2="821.5" stroke="#222" stroke-width="1.1" stroke-linecap="butt"/>
<text x="378.2" y="773.2" font-size="12.3" text-anchor="middle" transform="rotate(-90 378.2 773.2)">4</text>
<text x="378.2" y="792.4" font-size="12.3" text-anchor="middle" transform="rotate(-90 378.2 792.4)">0</text>
<text x="378.2" y="821.2" font-size="12.3" text-anchor="middle" transform="rotate(-90 378.2 821.2)">-6</text>
<line x1="404.5" y1="821.7" x2="404.5" y2="828.1" stroke="#222" stroke-width="1.1" stroke-linecap="butt"/>
<line x1="423.5" y1="821.7" x2="423.5" y2="828.1" stroke="#222" stroke-width="1.1" stroke-linecap="butt"/>
<line x1="442.5" y1="821.7" x2="442.5" y2="828.1" stroke="#222" stroke-width="1.1" stroke-linecap="butt"/>
<line x1="461.5" y1="821.7" x2="461.5" y2="828.1" stroke="#222" stroke-width="1.1" stroke-linecap="butt"/>
<line x1="480.5" y1="821.7" x2="480.5" y2="828.1" stroke="#222" stroke-width="1.1" stroke-linecap="butt"/>
<line x1="499.5" y1="821.7" x2="499.5" y2="828.1" stroke="#222" stroke-width="1.1" stroke-linecap="butt"/>
<line x1="518.5" y1="821.7" x2="518.5" y2="828.1" stroke="#222" stroke-width="1.1" stroke-linecap="butt"/>
<text x="404.5" y="847.3" font-size="11.6" text-anchor="middle">8</text>
<text x="423.54" y="847.3" font-size="11.6" text-anchor="middle">10</text>
<text x="461.62" y="847.3" font-size="11.6" text-anchor="middle">14</text>
<text x="499.7" y="847.3" font-size="11.6" text-anchor="middle">18</text>
<text x="383" y="859.3" font-size="10.9">STAT3</text>
<polyline points="422.2,855.5 515.7,855.5" fill="none" stroke="#222" stroke-width="0.9"/>
<polyline points="506.2,860.7 515.7,855.5 506.2,850.3" fill="none" stroke="#222" stroke-width="0.9" stroke-linejoin="miter"/>
<line x1="555.5" y1="766.5" x2="680.8" y2="766.5" stroke="#d6d6d6" stroke-width="1" stroke-linecap="butt"/>
<line x1="555.5" y1="781.5" x2="680.8" y2="781.5" stroke="#d6d6d6" stroke-width="1" stroke-linecap="butt"/>
<line x1="555.5" y1="796.5" x2="680.8" y2="796.5" stroke="#d6d6d6" stroke-width="1" stroke-linecap="butt"/>
<line x1="555.5" y1="811.5" x2="680.8" y2="811.5" stroke="#d6d6d6" stroke-width="1" stroke-linecap="butt"/>
<line x1="577.5" y1="756.1" x2="577.5" y2="821.4" stroke="#d6d6d6" stroke-width="1" stroke-linecap="butt"/>
<line x1="605.5" y1="756.1" x2="605.5" y2="821.4" stroke="#d6d6d6" stroke-width="1" stroke-linecap="butt"/>
<line x1="633.5" y1="756.1" x2="633.5" y2="821.4" stroke="#d6d6d6" stroke-width="1" stroke-linecap="butt"/>
<line x1="662.5" y1="756.1" x2="662.5" y2="821.4" stroke="#d6d6d6" stroke-width="1" stroke-linecap="butt"/>
<g>
<circle cx="561.4" cy="819.4" r="2.3" fill="none" stroke="#111" stroke-width="1.15"/>
<circle cx="616.8" cy="786.4" r="2.3" fill="none" stroke="#111" stroke-width="1.15"/>
<circle cx="616.3" cy="789.6" r="2.3" fill="none" stroke="#111" stroke-width="1.15"/>
<circle cx="618.7" cy="789.6" r="2.3" fill="none" stroke="#111" stroke-width="1.15"/>
<circle cx="620.5" cy="790.4" r="2.3" fill="none" stroke="#111" stroke-width="1.15"/>
<circle cx="625.5" cy="787.2" r="2.3" fill="none" stroke="#111" stroke-width="1.15"/>
<circle cx="629.2" cy="786.7" r="2.3" fill="none" stroke="#111" stroke-width="1.15"/>
<circle cx="630.4" cy="785.9" r="2.3" fill="none" stroke="#111" stroke-width="1.15"/>
<circle cx="640.3" cy="779" r="2.3" fill="none" stroke="#111" stroke-width="1.15"/>
<circle cx="645.3" cy="781.4" r="2.3" fill="none" stroke="#111" stroke-width="1.15"/>
<circle cx="645.3" cy="770.5" r="2.3" fill="none" stroke="#111" stroke-width="1.15"/>
<circle cx="648.3" cy="769.3" r="2.3" fill="none" stroke="#111" stroke-width="1.15"/>
<circle cx="652.8" cy="771.5" r="2.3" fill="none" stroke="#111" stroke-width="1.15"/>
<circle cx="658.5" cy="765.3" r="2.3" fill="none" stroke="#111" stroke-width="1.15"/>
<circle cx="676.3" cy="758.1" r="2.3" fill="none" stroke="#111" stroke-width="1.15"/>
<circle cx="676.3" cy="760.4" r="2.3" fill="none" stroke="#111" stroke-width="1.15"/>
<polyline points="555.5,822.4 680.8,756.9" fill="none" stroke="#ff1a1a" stroke-width="2" stroke-linecap="butt" stroke-linejoin="miter" stroke-dasharray="5.5,3.5"/>
<path d="M561.8,819 C563.77,817.95 569.65,815.07 573.6,812.7 C577.55,810.33 581.88,806.87 585.5,804.8 C589.12,802.73 591.68,802.05 595.3,800.3 C598.92,798.55 603.58,795.95 607.2,794.3 C610.82,792.65 613.4,791.87 617,790.4 C620.6,788.93 624.85,787.37 628.8,785.5 C632.75,783.63 636.75,781.5 640.7,779.2 C644.65,776.9 647.92,774.43 652.5,771.7 C657.08,768.97 664.1,765.1 668.2,762.8 C672.3,760.5 675.62,758.72 677.1,757.9" fill="none" stroke="#10c010" stroke-width="2.2" stroke-linecap="round" stroke-linejoin="round"/>
</g>
<rect x="555.5" y="756.5" width="125" height="65" fill="none" stroke="#111" stroke-width="1.1"/>
<line x1="548.5" y1="766.5" x2="555.5" y2="766.5" stroke="#222" stroke-width="1.1" stroke-linecap="butt"/>
<line x1="548.5" y1="781.5" x2="555.5" y2="781.5" stroke="#222" stroke-width="1.1" stroke-linecap="butt"/>
<line x1="548.5" y1="796.5" x2="555.5" y2="796.5" stroke="#222" stroke-width="1.1" stroke-linecap="butt"/>
<line x1="548.5" y1="811.5" x2="555.5" y2="811.5" stroke="#222" stroke-width="1.1" stroke-linecap="butt"/>
<text x="540.6" y="781.4" font-size="12.3" text-anchor="middle" transform="rotate(-90 540.6 781.4)">0</text>
<text x="540.6" y="811.5" font-size="12.3" text-anchor="middle" transform="rotate(-90 540.6 811.5)">-20</text>
<line x1="577.5" y1="821.4" x2="577.5" y2="827.8" stroke="#222" stroke-width="1.1" stroke-linecap="butt"/>
<line x1="605.5" y1="821.4" x2="605.5" y2="827.8" stroke="#222" stroke-width="1.1" stroke-linecap="butt"/>
<line x1="633.5" y1="821.4" x2="633.5" y2="827.8" stroke="#222" stroke-width="1.1" stroke-linecap="butt"/>
<line x1="662.5" y1="821.4" x2="662.5" y2="827.8" stroke="#222" stroke-width="1.1" stroke-linecap="butt"/>
<text x="577.5" y="847.6" font-size="11.6" text-anchor="middle">8</text>
<text x="605.7" y="847.6" font-size="11.6" text-anchor="middle">10</text>
<text x="633.9" y="847.6" font-size="11.6" text-anchor="middle">12</text>
<text x="662.1" y="847.6" font-size="11.6" text-anchor="middle">14</text>
<text x="542.7" y="858.5" font-size="10.9">MAPK1</text>
<polyline points="582.5,854.5 680,854.5" fill="none" stroke="#222" stroke-width="0.9"/>
<polyline points="670.5,859.7 680,854.5 670.5,849.3" fill="none" stroke="#222" stroke-width="0.9" stroke-linejoin="miter"/>
<rect x="102" y="472" width="1" height="1.5" fill="#999"/>
</svg>
</body></html>
